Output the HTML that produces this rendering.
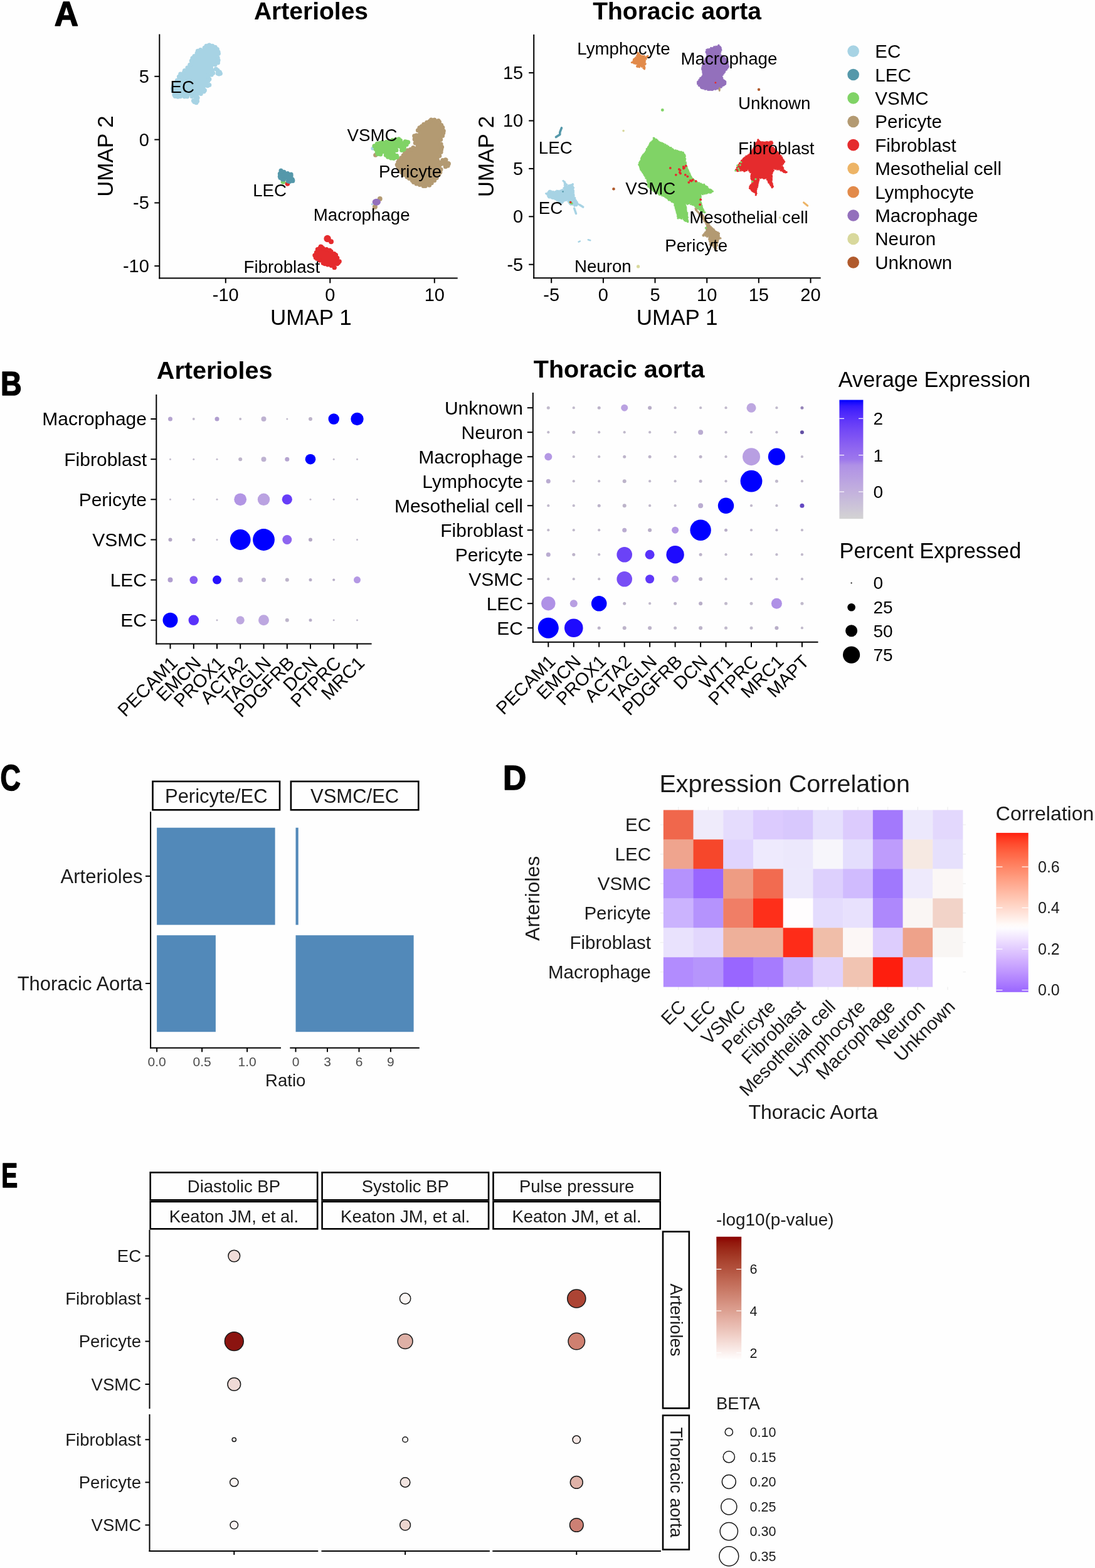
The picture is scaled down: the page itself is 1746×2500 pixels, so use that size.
<!DOCTYPE html>
<html><head><meta charset="utf-8"><title>Figure</title>
<style>html,body{margin:0;padding:0;background:#fefefe;}svg{display:block;}</style>
</head><body>
<svg width="1746" height="2500" viewBox="0 0 1746 2500" font-family='"Liberation Sans", Arial, Helvetica, sans-serif'>
<rect x="0" y="0" width="1746" height="2500" fill="#fefefe"/>
<text transform="translate(86.80,41.40) scale(0.955,1)" font-size="55.4" font-weight="bold" stroke="#000" stroke-width="1.6" stroke-linejoin="round">A</text>
<text x="496.0" y="30.8" font-size="39" text-anchor="middle" font-weight="bold">Arterioles</text>
<text x="1079.6" y="30.7" font-size="39" text-anchor="middle" font-weight="bold">Thoracic aorta</text>
<line x1="254.3" y1="54.6" x2="254.3" y2="444.4" stroke="#000" stroke-width="2" stroke-linecap="butt"/>
<line x1="253.3" y1="443.4" x2="729.7" y2="443.4" stroke="#000" stroke-width="2" stroke-linecap="butt"/>
<line x1="246.3" y1="121.8" x2="254.3" y2="121.8" stroke="#000" stroke-width="2" stroke-linecap="butt"/>
<text x="237.8" y="131.8" font-size="29" text-anchor="end">5</text>
<line x1="246.3" y1="222.6" x2="254.3" y2="222.6" stroke="#000" stroke-width="2" stroke-linecap="butt"/>
<text x="237.8" y="232.5" font-size="29" text-anchor="end">0</text>
<line x1="246.3" y1="323.4" x2="254.3" y2="323.4" stroke="#000" stroke-width="2" stroke-linecap="butt"/>
<text x="237.8" y="333.2" font-size="29" text-anchor="end">-5</text>
<line x1="246.3" y1="424.1" x2="254.3" y2="424.1" stroke="#000" stroke-width="2" stroke-linecap="butt"/>
<text x="237.8" y="434.0" font-size="29" text-anchor="end">-10</text>
<line x1="359.8" y1="443.4" x2="359.8" y2="451.4" stroke="#000" stroke-width="2" stroke-linecap="butt"/>
<text x="359.8" y="479.8" font-size="29" text-anchor="middle">-10</text>
<line x1="526.3" y1="443.4" x2="526.3" y2="451.4" stroke="#000" stroke-width="2" stroke-linecap="butt"/>
<text x="526.3" y="479.8" font-size="29" text-anchor="middle">0</text>
<line x1="692.8" y1="443.4" x2="692.8" y2="451.4" stroke="#000" stroke-width="2" stroke-linecap="butt"/>
<text x="692.8" y="479.8" font-size="29" text-anchor="middle">10</text>
<text x="495.8" y="518.2" font-size="35" text-anchor="middle">UMAP 1</text>
<text transform="translate(180.4,249.0) rotate(-90)" font-size="35" text-anchor="middle">UMAP 2</text>
<line x1="851.2" y1="55.0" x2="851.2" y2="444.3" stroke="#000" stroke-width="2" stroke-linecap="butt"/>
<line x1="850.2" y1="443.3" x2="1308.7" y2="443.3" stroke="#000" stroke-width="2" stroke-linecap="butt"/>
<line x1="843.2" y1="116.1" x2="851.2" y2="116.1" stroke="#000" stroke-width="2" stroke-linecap="butt"/>
<text x="834.2" y="126.0" font-size="29" text-anchor="end">15</text>
<line x1="843.2" y1="192.5" x2="851.2" y2="192.5" stroke="#000" stroke-width="2" stroke-linecap="butt"/>
<text x="834.2" y="202.4" font-size="29" text-anchor="end">10</text>
<line x1="843.2" y1="268.9" x2="851.2" y2="268.9" stroke="#000" stroke-width="2" stroke-linecap="butt"/>
<text x="834.2" y="278.8" font-size="29" text-anchor="end">5</text>
<line x1="843.2" y1="345.3" x2="851.2" y2="345.3" stroke="#000" stroke-width="2" stroke-linecap="butt"/>
<text x="834.2" y="355.2" font-size="29" text-anchor="end">0</text>
<line x1="843.2" y1="421.7" x2="851.2" y2="421.7" stroke="#000" stroke-width="2" stroke-linecap="butt"/>
<text x="834.2" y="431.6" font-size="29" text-anchor="end">-5</text>
<line x1="879.2" y1="443.3" x2="879.2" y2="451.3" stroke="#000" stroke-width="2" stroke-linecap="butt"/>
<text x="879.2" y="479.8" font-size="29" text-anchor="middle">-5</text>
<line x1="961.9" y1="443.3" x2="961.9" y2="451.3" stroke="#000" stroke-width="2" stroke-linecap="butt"/>
<text x="961.9" y="479.8" font-size="29" text-anchor="middle">0</text>
<line x1="1044.5" y1="443.3" x2="1044.5" y2="451.3" stroke="#000" stroke-width="2" stroke-linecap="butt"/>
<text x="1044.5" y="479.8" font-size="29" text-anchor="middle">5</text>
<line x1="1127.2" y1="443.3" x2="1127.2" y2="451.3" stroke="#000" stroke-width="2" stroke-linecap="butt"/>
<text x="1127.2" y="479.8" font-size="29" text-anchor="middle">10</text>
<line x1="1209.8" y1="443.3" x2="1209.8" y2="451.3" stroke="#000" stroke-width="2" stroke-linecap="butt"/>
<text x="1209.8" y="479.8" font-size="29" text-anchor="middle">15</text>
<line x1="1292.5" y1="443.3" x2="1292.5" y2="451.3" stroke="#000" stroke-width="2" stroke-linecap="butt"/>
<text x="1292.5" y="479.8" font-size="29" text-anchor="middle">20</text>
<text x="1079.6" y="517.9" font-size="35" text-anchor="middle">UMAP 1</text>
<text transform="translate(786.5,249.5) rotate(-90)" font-size="35" text-anchor="middle">UMAP 2</text>
<mask id="msk1" maskUnits="userSpaceOnUse" x="0" y="0" width="1746" height="2500"><polygon points="334.2,69.4 339.8,70.0 345.4,73.1 349.8,77.5 350.4,81.8 351.7,86.2 350.4,91.2 351.0,94.9 351.3,98.7 349.2,102.4 345.4,105.5 342.9,107.4 347.9,108.0 351.0,111.1 352.9,114.2 354.2,117.4 352.3,120.5 349.2,121.1 345.4,119.2 342.9,116.1 341.1,119.9 338.6,121.7 336.1,120.5 335.4,122.3 337.3,125.5 336.7,128.6 334.8,131.1 336.7,135.4 334.8,138.6 330.5,140.4 329.8,144.8 327.3,148.5 321.1,152.3 318.6,155.4 318.0,161.0 316.1,165.4 312.4,166.6 308.0,165.4 306.1,161.6 306.1,157.3 302.4,156.0 297.4,157.3 289.9,156.6 283.1,157.3 277.5,155.4 274.4,152.3 273.7,147.3 272.5,142.9 271.9,138.6 274.4,134.2 278.7,128.6 281.2,124.2 283.1,119.9 285.6,116.1 289.9,114.9 291.2,111.1 294.9,107.4 298.0,103.6 301.2,99.9 302.4,95.5 304.9,91.2 306.1,88.1 309.9,86.2 312.4,81.8 313.0,79.3 318.0,76.8 323.0,75.0 326.1,71.8 330.5,70.0" fill="white" stroke="black" stroke-width="6.0" stroke-linejoin="round"/></mask>
<polygon points="334.2,69.4 339.8,70.0 345.4,73.1 349.8,77.5 350.4,81.8 351.7,86.2 350.4,91.2 351.0,94.9 351.3,98.7 349.2,102.4 345.4,105.5 342.9,107.4 347.9,108.0 351.0,111.1 352.9,114.2 354.2,117.4 352.3,120.5 349.2,121.1 345.4,119.2 342.9,116.1 341.1,119.9 338.6,121.7 336.1,120.5 335.4,122.3 337.3,125.5 336.7,128.6 334.8,131.1 336.7,135.4 334.8,138.6 330.5,140.4 329.8,144.8 327.3,148.5 321.1,152.3 318.6,155.4 318.0,161.0 316.1,165.4 312.4,166.6 308.0,165.4 306.1,161.6 306.1,157.3 302.4,156.0 297.4,157.3 289.9,156.6 283.1,157.3 277.5,155.4 274.4,152.3 273.7,147.3 272.5,142.9 271.9,138.6 274.4,134.2 278.7,128.6 281.2,124.2 283.1,119.9 285.6,116.1 289.9,114.9 291.2,111.1 294.9,107.4 298.0,103.6 301.2,99.9 302.4,95.5 304.9,91.2 306.1,88.1 309.9,86.2 312.4,81.8 313.0,79.3 318.0,76.8 323.0,75.0 326.1,71.8 330.5,70.0" fill="#a7d3e4" mask="url(#msk1)"/>
<g fill="#a7d3e4"><circle cx="333.9" cy="71.9" r="3.5"/><circle cx="338.7" cy="73.2" r="3.5"/><circle cx="343.2" cy="75.3" r="3.5"/><circle cx="346.4" cy="78.6" r="3.5"/><circle cx="348.0" cy="82.7" r="3.5"/><circle cx="348.4" cy="85.4" r="3.5"/><circle cx="347.2" cy="91.9" r="3.5"/><circle cx="348.1" cy="96.0" r="3.5"/><circle cx="347.5" cy="100.0" r="3.5"/><circle cx="343.0" cy="102.9" r="3.5"/><circle cx="344.3" cy="110.0" r="3.5"/><circle cx="347.0" cy="112.1" r="3.5"/><circle cx="350.4" cy="115.1" r="3.5"/><circle cx="351.4" cy="117.3" r="3.5"/><circle cx="349.2" cy="118.1" r="3.5"/><circle cx="347.1" cy="117.0" r="3.5"/><circle cx="339.8" cy="116.4" r="3.5"/><circle cx="337.2" cy="119.3" r="3.5"/><circle cx="332.4" cy="120.6" r="3.5"/><circle cx="333.9" cy="126.2" r="3.5"/><circle cx="332.0" cy="128.8" r="3.5"/><circle cx="333.8" cy="135.4" r="3.5"/><circle cx="330.9" cy="136.7" r="3.5"/><circle cx="326.4" cy="144.0" r="3.5"/><circle cx="325.0" cy="145.9" r="3.5"/><circle cx="320.3" cy="149.5" r="3.5"/><circle cx="315.1" cy="155.9" r="3.5"/><circle cx="314.6" cy="161.2" r="3.5"/><circle cx="313.0" cy="163.8" r="3.5"/><circle cx="309.9" cy="162.4" r="3.5"/><circle cx="308.4" cy="160.4" r="3.5"/><circle cx="306.0" cy="153.8" r="3.5"/><circle cx="298.5" cy="154.1" r="3.5"/><circle cx="294.2" cy="154.0" r="3.5"/><circle cx="287.6" cy="153.8" r="3.5"/><circle cx="283.6" cy="154.3" r="3.5"/><circle cx="279.2" cy="153.4" r="3.5"/><circle cx="277.9" cy="151.2" r="3.5"/><circle cx="276.1" cy="145.3" r="3.5"/><circle cx="275.3" cy="141.0" r="3.5"/><circle cx="276.6" cy="137.0" r="3.5"/><circle cx="279.7" cy="133.0" r="3.5"/><circle cx="282.3" cy="128.3" r="3.5"/><circle cx="285.4" cy="122.3" r="3.5"/><circle cx="287.7" cy="117.9" r="3.5"/><circle cx="293.5" cy="115.3" r="3.5"/><circle cx="294.4" cy="112.6" r="3.5"/><circle cx="298.9" cy="107.9" r="3.5"/><circle cx="302.7" cy="103.3" r="3.5"/><circle cx="305.2" cy="96.9" r="3.5"/><circle cx="306.9" cy="92.7" r="3.5"/><circle cx="309.9" cy="89.6" r="3.5"/><circle cx="314.1" cy="84.8" r="3.5"/><circle cx="315.3" cy="81.3" r="3.5"/><circle cx="319.7" cy="79.4" r="3.5"/><circle cx="326.1" cy="76.3" r="3.5"/><circle cx="329.0" cy="73.2" r="3.5"/><circle cx="333.2" cy="72.2" r="3.5"/></g>
<mask id="msk2" maskUnits="userSpaceOnUse" x="0" y="0" width="1746" height="2500"><polygon points="693.9,187.9 702.6,191.3 708.7,201.8 710.5,208.8 708.7,217.5 705.2,225.4 707.0,234.1 706.1,242.8 703.5,249.8 703.5,253.3 712.2,251.6 719.2,261.2 715.7,267.3 709.6,269.0 706.1,267.3 705.2,276.0 699.1,284.7 694.7,290.0 686.0,297.8 677.3,300.5 668.6,297.8 658.1,293.5 654.6,290.0 646.7,284.7 638.9,277.8 631.9,267.3 630.2,262.0 632.8,253.3 638.9,248.1 644.1,241.1 651.1,235.9 659.8,232.4 659.0,225.4 658.1,216.7 663.3,213.2 664.2,206.2 668.6,200.1 677.3,194.0 686.0,188.7" fill="white" stroke="black" stroke-width="6.0" stroke-linejoin="round"/></mask>
<polygon points="693.9,187.9 702.6,191.3 708.7,201.8 710.5,208.8 708.7,217.5 705.2,225.4 707.0,234.1 706.1,242.8 703.5,249.8 703.5,253.3 712.2,251.6 719.2,261.2 715.7,267.3 709.6,269.0 706.1,267.3 705.2,276.0 699.1,284.7 694.7,290.0 686.0,297.8 677.3,300.5 668.6,297.8 658.1,293.5 654.6,290.0 646.7,284.7 638.9,277.8 631.9,267.3 630.2,262.0 632.8,253.3 638.9,248.1 644.1,241.1 651.1,235.9 659.8,232.4 659.0,225.4 658.1,216.7 663.3,213.2 664.2,206.2 668.6,200.1 677.3,194.0 686.0,188.7" fill="#b39a72" mask="url(#msk2)"/>
<g fill="#b39a72"><circle cx="692.6" cy="191.2" r="3.5"/><circle cx="699.0" cy="192.6" r="3.5"/><circle cx="700.5" cy="194.5" r="3.5"/><circle cx="703.7" cy="199.6" r="3.5"/><circle cx="705.8" cy="203.2" r="3.5"/><circle cx="707.3" cy="208.8" r="3.5"/><circle cx="706.8" cy="212.1" r="3.5"/><circle cx="705.6" cy="216.5" r="3.5"/><circle cx="702.7" cy="222.4" r="3.5"/><circle cx="703.1" cy="229.8" r="3.5"/><circle cx="704.6" cy="234.6" r="3.5"/><circle cx="703.6" cy="238.2" r="3.5"/><circle cx="703.1" cy="242.5" r="3.5"/><circle cx="700.8" cy="248.4" r="3.5"/><circle cx="705.8" cy="255.6" r="3.5"/><circle cx="710.2" cy="254.8" r="3.5"/><circle cx="711.0" cy="255.1" r="3.5"/><circle cx="714.7" cy="260.5" r="3.5"/><circle cx="715.4" cy="260.9" r="3.5"/><circle cx="714.1" cy="264.3" r="3.5"/><circle cx="710.3" cy="265.7" r="3.5"/><circle cx="703.0" cy="270.0" r="3.5"/><circle cx="701.8" cy="274.7" r="3.5"/><circle cx="699.3" cy="278.7" r="3.5"/><circle cx="696.2" cy="283.6" r="3.5"/><circle cx="692.6" cy="287.8" r="3.5"/><circle cx="688.2" cy="291.8" r="3.5"/><circle cx="684.6" cy="295.3" r="3.5"/><circle cx="678.3" cy="296.5" r="3.5"/><circle cx="675.1" cy="296.6" r="3.5"/><circle cx="669.3" cy="294.6" r="3.5"/><circle cx="664.0" cy="293.0" r="3.5"/><circle cx="659.5" cy="290.6" r="3.5"/><circle cx="657.3" cy="287.8" r="3.5"/><circle cx="652.7" cy="284.5" r="3.5"/><circle cx="648.9" cy="281.9" r="3.5"/><circle cx="644.1" cy="278.4" r="3.5"/><circle cx="640.8" cy="275.0" r="3.5"/><circle cx="637.3" cy="270.5" r="3.5"/><circle cx="634.8" cy="266.3" r="3.5"/><circle cx="633.2" cy="262.8" r="3.5"/><circle cx="634.8" cy="258.5" r="3.5"/><circle cx="636.3" cy="254.9" r="3.5"/><circle cx="639.8" cy="251.7" r="3.5"/><circle cx="643.2" cy="247.7" r="3.5"/><circle cx="645.8" cy="243.3" r="3.5"/><circle cx="650.0" cy="239.8" r="3.5"/><circle cx="654.6" cy="238.2" r="3.5"/><circle cx="658.8" cy="235.6" r="3.5"/><circle cx="662.2" cy="227.9" r="3.5"/><circle cx="661.1" cy="222.0" r="3.5"/><circle cx="660.7" cy="216.8" r="3.5"/><circle cx="664.1" cy="215.7" r="3.5"/><circle cx="666.4" cy="207.8" r="3.5"/><circle cx="668.9" cy="203.8" r="3.5"/><circle cx="672.3" cy="201.6" r="3.5"/><circle cx="675.7" cy="198.3" r="3.5"/><circle cx="680.6" cy="195.3" r="3.5"/><circle cx="684.9" cy="193.6" r="3.5"/><circle cx="687.5" cy="191.0" r="3.5"/><circle cx="692.7" cy="191.2" r="3.5"/></g>
<circle cx="594.4" cy="236.7" r="3.00" fill="#a7d3e4"/>
<circle cx="598.7" cy="247.2" r="3.50" fill="#b39a72"/>
<mask id="msk3" maskUnits="userSpaceOnUse" x="0" y="0" width="1746" height="2500"><polygon points="595.2,230.6 600.5,226.3 607.5,224.5 616.2,223.6 624.9,220.2 636.3,218.4 640.6,221.9 649.4,222.8 653.7,227.1 651.1,232.4 647.6,235.9 645.9,241.1 640.6,242.8 635.4,239.4 633.6,242.8 636.3,248.1 635.4,252.4 629.3,255.9 623.2,255.1 616.2,252.4 611.8,248.1 604.8,249.8 599.6,248.1 597.9,242.8 595.2,237.6" fill="white" stroke="black" stroke-width="6.0" stroke-linejoin="round"/></mask>
<polygon points="595.2,230.6 600.5,226.3 607.5,224.5 616.2,223.6 624.9,220.2 636.3,218.4 640.6,221.9 649.4,222.8 653.7,227.1 651.1,232.4 647.6,235.9 645.9,241.1 640.6,242.8 635.4,239.4 633.6,242.8 636.3,248.1 635.4,252.4 629.3,255.9 623.2,255.1 616.2,252.4 611.8,248.1 604.8,249.8 599.6,248.1 597.9,242.8 595.2,237.6" fill="#80d366" mask="url(#msk3)"/>
<g fill="#80d366"><circle cx="596.9" cy="232.7" r="3.5"/><circle cx="601.3" cy="229.3" r="3.5"/><circle cx="605.6" cy="228.2" r="3.5"/><circle cx="609.6" cy="226.7" r="3.5"/><circle cx="615.8" cy="226.4" r="3.5"/><circle cx="621.4" cy="225.4" r="3.5"/><circle cx="625.7" cy="223.5" r="3.5"/><circle cx="631.1" cy="222.4" r="3.5"/><circle cx="635.8" cy="221.7" r="3.5"/><circle cx="638.5" cy="224.1" r="3.5"/><circle cx="646.0" cy="225.7" r="3.5"/><circle cx="648.1" cy="226.2" r="3.5"/><circle cx="650.7" cy="226.8" r="3.5"/><circle cx="648.2" cy="230.6" r="3.5"/><circle cx="644.5" cy="235.0" r="3.5"/><circle cx="644.0" cy="238.3" r="3.5"/><circle cx="640.6" cy="239.4" r="3.5"/><circle cx="632.0" cy="239.6" r="3.5"/><circle cx="632.5" cy="248.3" r="3.5"/><circle cx="633.2" cy="250.6" r="3.5"/><circle cx="630.5" cy="251.1" r="3.5"/><circle cx="627.8" cy="252.5" r="3.5"/><circle cx="623.5" cy="252.0" r="3.5"/><circle cx="618.6" cy="250.3" r="3.5"/><circle cx="615.3" cy="247.2" r="3.5"/><circle cx="606.7" cy="246.0" r="3.5"/><circle cx="602.3" cy="245.4" r="3.5"/><circle cx="601.2" cy="242.5" r="3.5"/><circle cx="599.1" cy="237.7" r="3.5"/><circle cx="598.7" cy="232.9" r="3.5"/></g>
<circle cx="458.4" cy="293.0" r="3.80" fill="#e52b2d"/>
<circle cx="451.5" cy="289.9" r="3.80" fill="#80d366"/>
<mask id="msk4" maskUnits="userSpaceOnUse" x="0" y="0" width="1746" height="2500"><polygon points="449.3,269.0 455.6,271.8 461.2,274.0 466.8,276.5 468.0,281.2 470.2,286.5 468.7,291.2 464.3,291.8 459.6,292.1 455.6,289.6 449.3,289.3 445.0,285.9 443.1,278.7 445.0,271.8" fill="white" stroke="black" stroke-width="6.0" stroke-linejoin="round"/></mask>
<polygon points="449.3,269.0 455.6,271.8 461.2,274.0 466.8,276.5 468.0,281.2 470.2,286.5 468.7,291.2 464.3,291.8 459.6,292.1 455.6,289.6 449.3,289.3 445.0,285.9 443.1,278.7 445.0,271.8" fill="#5598aa" mask="url(#msk4)"/>
<g fill="#5598aa"><circle cx="448.0" cy="271.9" r="3.5"/><circle cx="452.9" cy="274.3" r="3.5"/><circle cx="458.6" cy="276.5" r="3.5"/><circle cx="464.1" cy="278.0" r="3.5"/><circle cx="464.1" cy="280.4" r="3.5"/><circle cx="466.1" cy="285.8" r="3.5"/><circle cx="466.8" cy="287.5" r="3.5"/><circle cx="466.7" cy="288.4" r="3.5"/><circle cx="461.8" cy="289.5" r="3.5"/><circle cx="459.3" cy="288.7" r="3.5"/><circle cx="452.6" cy="286.1" r="3.5"/><circle cx="450.5" cy="286.0" r="3.5"/><circle cx="447.0" cy="283.5" r="3.5"/><circle cx="446.3" cy="281.2" r="3.5"/><circle cx="446.3" cy="277.0" r="3.5"/><circle cx="448.4" cy="273.0" r="3.5"/></g>
<circle cx="605.8" cy="317.0" r="3.90" fill="#b39a72"/>
<circle cx="597.9" cy="329.7" r="4.00" fill="#b39a72"/>
<circle cx="593.4" cy="325.6" r="1.60" fill="#a7d3e4"/>
<ellipse cx="600.3" cy="322.2" rx="6.6" ry="5.5" fill="#9370bc"/>
<circle cx="522.1" cy="380.5" r="5.70" fill="#e52b2d"/>
<circle cx="528.0" cy="385.3" r="4.00" fill="#e52b2d"/>
<mask id="msk5" maskUnits="userSpaceOnUse" x="0" y="0" width="1746" height="2500"><polygon points="512.7,390.9 518.8,394.9 528.0,395.7 531.9,400.5 537.1,403.6 539.8,409.3 544.6,415.4 542.4,421.1 538.0,423.7 535.8,428.9 531.5,429.8 528.0,426.7 520.5,424.6 513.1,422.4 508.3,418.0 500.5,413.6 498.5,407.1 501.3,401.4 504.0,396.2 508.3,392.3" fill="white" stroke="black" stroke-width="6.0" stroke-linejoin="round"/></mask>
<polygon points="512.7,390.9 518.8,394.9 528.0,395.7 531.9,400.5 537.1,403.6 539.8,409.3 544.6,415.4 542.4,421.1 538.0,423.7 535.8,428.9 531.5,429.8 528.0,426.7 520.5,424.6 513.1,422.4 508.3,418.0 500.5,413.6 498.5,407.1 501.3,401.4 504.0,396.2 508.3,392.3" fill="#e52b2d" mask="url(#msk5)"/>
<g fill="#e52b2d"><circle cx="511.2" cy="393.1" r="3.5"/><circle cx="515.0" cy="395.8" r="3.5"/><circle cx="520.7" cy="397.6" r="3.5"/><circle cx="525.8" cy="399.0" r="3.5"/><circle cx="528.1" cy="401.1" r="3.5"/><circle cx="532.9" cy="404.6" r="3.5"/><circle cx="535.6" cy="406.5" r="3.5"/><circle cx="537.9" cy="411.2" r="3.5"/><circle cx="541.3" cy="416.7" r="3.5"/><circle cx="539.6" cy="419.0" r="3.5"/><circle cx="537.7" cy="420.7" r="3.5"/><circle cx="533.2" cy="426.6" r="3.5"/><circle cx="533.2" cy="426.7" r="3.5"/><circle cx="528.2" cy="423.5" r="3.5"/><circle cx="522.5" cy="422.0" r="3.5"/><circle cx="518.0" cy="420.7" r="3.5"/><circle cx="515.2" cy="419.5" r="3.5"/><circle cx="509.6" cy="415.2" r="3.5"/><circle cx="505.4" cy="412.4" r="3.5"/><circle cx="503.2" cy="410.7" r="3.5"/><circle cx="501.8" cy="407.1" r="3.5"/><circle cx="504.3" cy="402.5" r="3.5"/><circle cx="506.3" cy="397.5" r="3.5"/><circle cx="509.9" cy="395.4" r="3.5"/><circle cx="512.5" cy="393.5" r="3.5"/></g>
<mask id="msk6" maskUnits="userSpaceOnUse" x="0" y="0" width="1746" height="2500"><polygon points="1110.0,332.0 1115.0,339.0 1120.9,342.0 1123.4,345.0 1127.9,352.9 1132.4,358.9 1137.9,363.9 1142.9,367.9 1147.4,371.4 1148.4,377.4 1149.9,379.9 1147.4,382.4 1144.9,386.9 1143.9,393.8 1142.4,398.8 1139.4,397.8 1135.9,392.3 1131.4,390.8 1130.4,384.9 1128.9,378.9 1123.9,376.4 1120.9,377.4 1120.0,374.9 1122.9,370.9 1124.9,367.4 1125.9,361.9 1124.9,356.9 1120.9,351.4 1115.0,343.0 1109.0,335.0" fill="white" stroke="black" stroke-width="2.6" stroke-linejoin="round"/></mask>
<polygon points="1110.0,332.0 1115.0,339.0 1120.9,342.0 1123.4,345.0 1127.9,352.9 1132.4,358.9 1137.9,363.9 1142.9,367.9 1147.4,371.4 1148.4,377.4 1149.9,379.9 1147.4,382.4 1144.9,386.9 1143.9,393.8 1142.4,398.8 1139.4,397.8 1135.9,392.3 1131.4,390.8 1130.4,384.9 1128.9,378.9 1123.9,376.4 1120.9,377.4 1120.0,374.9 1122.9,370.9 1124.9,367.4 1125.9,361.9 1124.9,356.9 1120.9,351.4 1115.0,343.0 1109.0,335.0" fill="#b39a72" mask="url(#msk6)"/>
<g fill="#b39a72"><circle cx="1109.0" cy="332.7" r="1.6"/><circle cx="1110.1" cy="335.2" r="1.6"/><circle cx="1112.0" cy="337.0" r="1.6"/><circle cx="1113.9" cy="339.0" r="1.6"/><circle cx="1116.1" cy="341.2" r="1.6"/><circle cx="1118.9" cy="341.9" r="1.6"/><circle cx="1120.7" cy="343.0" r="1.6"/><circle cx="1122.0" cy="345.7" r="1.6"/><circle cx="1122.6" cy="347.4" r="1.6"/><circle cx="1124.5" cy="349.9" r="1.6"/><circle cx="1126.4" cy="352.0" r="1.6"/><circle cx="1127.2" cy="354.1" r="1.6"/><circle cx="1128.8" cy="355.6" r="1.6"/><circle cx="1130.3" cy="357.4" r="1.6"/><circle cx="1131.6" cy="359.9" r="1.6"/><circle cx="1133.8" cy="361.9" r="1.6"/><circle cx="1135.8" cy="363.8" r="1.6"/><circle cx="1138.0" cy="365.6" r="1.6"/><circle cx="1139.4" cy="367.6" r="1.6"/><circle cx="1142.0" cy="369.4" r="1.6"/><circle cx="1144.6" cy="370.6" r="1.6"/><circle cx="1146.5" cy="372.0" r="1.6"/><circle cx="1146.1" cy="373.4" r="1.6"/><circle cx="1146.4" cy="375.9" r="1.6"/><circle cx="1147.2" cy="378.9" r="1.6"/><circle cx="1148.9" cy="379.9" r="1.6"/><circle cx="1146.5" cy="380.8" r="1.6"/><circle cx="1144.8" cy="383.3" r="1.6"/><circle cx="1144.5" cy="386.0" r="1.6"/><circle cx="1143.0" cy="388.8" r="1.6"/><circle cx="1143.5" cy="391.3" r="1.6"/><circle cx="1142.1" cy="393.5" r="1.6"/><circle cx="1142.3" cy="396.3" r="1.6"/><circle cx="1141.6" cy="398.5" r="1.6"/><circle cx="1140.9" cy="396.6" r="1.6"/><circle cx="1139.9" cy="396.1" r="1.6"/><circle cx="1138.2" cy="394.1" r="1.6"/><circle cx="1136.1" cy="391.5" r="1.6"/><circle cx="1133.5" cy="390.6" r="1.6"/><circle cx="1132.2" cy="390.1" r="1.6"/><circle cx="1132.7" cy="387.6" r="1.6"/><circle cx="1131.5" cy="384.8" r="1.6"/><circle cx="1130.6" cy="381.9" r="1.6"/><circle cx="1130.8" cy="379.3" r="1.6"/><circle cx="1127.5" cy="377.3" r="1.6"/><circle cx="1124.8" cy="375.8" r="1.6"/><circle cx="1121.7" cy="375.4" r="1.6"/><circle cx="1121.5" cy="376.0" r="1.6"/><circle cx="1121.0" cy="374.9" r="1.6"/><circle cx="1122.7" cy="372.9" r="1.6"/><circle cx="1124.4" cy="370.6" r="1.6"/><circle cx="1126.3" cy="368.7" r="1.6"/><circle cx="1126.6" cy="365.6" r="1.6"/><circle cx="1126.7" cy="362.6" r="1.6"/><circle cx="1127.3" cy="359.8" r="1.6"/><circle cx="1126.0" cy="357.1" r="1.6"/><circle cx="1125.1" cy="354.5" r="1.6"/><circle cx="1122.8" cy="352.4" r="1.6"/><circle cx="1121.7" cy="349.4" r="1.6"/><circle cx="1119.7" cy="347.5" r="1.6"/><circle cx="1118.0" cy="346.0" r="1.6"/><circle cx="1116.4" cy="343.3" r="1.6"/><circle cx="1114.8" cy="341.0" r="1.6"/><circle cx="1113.3" cy="338.4" r="1.6"/><circle cx="1111.5" cy="336.8" r="1.6"/><circle cx="1109.7" cy="334.6" r="1.6"/><circle cx="1111.0" cy="333.4" r="1.6"/></g>
<mask id="msk7" maskUnits="userSpaceOnUse" x="0" y="0" width="1746" height="2500"><polygon points="1042.9,219.0 1051.9,225.0 1064.8,231.9 1077.8,238.9 1089.8,241.9 1093.8,247.9 1093.8,256.9 1095.8,265.9 1099.8,274.8 1102.7,281.8 1107.7,286.8 1114.7,290.8 1123.7,293.8 1129.7,298.8 1137.7,303.8 1134.7,307.8 1124.7,309.8 1118.7,311.7 1117.7,319.7 1119.7,325.7 1122.7,333.7 1124.7,339.7 1117.7,338.7 1107.7,329.7 1099.8,325.7 1093.8,326.7 1095.8,334.7 1097.3,344.7 1097.8,354.6 1092.8,353.6 1087.8,349.6 1079.8,348.7 1077.8,339.7 1075.8,329.7 1073.8,324.7 1065.8,319.7 1057.9,313.7 1051.9,311.7 1041.9,305.8 1032.9,297.8 1031.9,289.8 1028.9,283.8 1024.9,277.8 1020.0,269.9 1017.0,261.9 1022.9,249.9 1029.9,237.9 1036.9,226.0" fill="white" stroke="black" stroke-width="2.6" stroke-linejoin="round"/></mask>
<polygon points="1042.9,219.0 1051.9,225.0 1064.8,231.9 1077.8,238.9 1089.8,241.9 1093.8,247.9 1093.8,256.9 1095.8,265.9 1099.8,274.8 1102.7,281.8 1107.7,286.8 1114.7,290.8 1123.7,293.8 1129.7,298.8 1137.7,303.8 1134.7,307.8 1124.7,309.8 1118.7,311.7 1117.7,319.7 1119.7,325.7 1122.7,333.7 1124.7,339.7 1117.7,338.7 1107.7,329.7 1099.8,325.7 1093.8,326.7 1095.8,334.7 1097.3,344.7 1097.8,354.6 1092.8,353.6 1087.8,349.6 1079.8,348.7 1077.8,339.7 1075.8,329.7 1073.8,324.7 1065.8,319.7 1057.9,313.7 1051.9,311.7 1041.9,305.8 1032.9,297.8 1031.9,289.8 1028.9,283.8 1024.9,277.8 1020.0,269.9 1017.0,261.9 1022.9,249.9 1029.9,237.9 1036.9,226.0" fill="#80d366" mask="url(#msk7)"/>
<g fill="#80d366"><circle cx="1042.2" cy="220.1" r="1.6"/><circle cx="1044.4" cy="221.8" r="1.6"/><circle cx="1046.7" cy="222.4" r="1.6"/><circle cx="1048.5" cy="224.0" r="1.6"/><circle cx="1050.7" cy="226.0" r="1.6"/><circle cx="1053.3" cy="227.3" r="1.6"/><circle cx="1055.9" cy="228.1" r="1.6"/><circle cx="1058.2" cy="229.4" r="1.6"/><circle cx="1060.9" cy="230.7" r="1.6"/><circle cx="1063.5" cy="232.1" r="1.6"/><circle cx="1065.8" cy="233.7" r="1.6"/><circle cx="1067.7" cy="235.4" r="1.6"/><circle cx="1070.0" cy="235.6" r="1.6"/><circle cx="1072.4" cy="237.5" r="1.6"/><circle cx="1074.0" cy="239.0" r="1.6"/><circle cx="1077.2" cy="239.5" r="1.6"/><circle cx="1079.8" cy="240.3" r="1.6"/><circle cx="1082.0" cy="241.4" r="1.6"/><circle cx="1084.2" cy="242.1" r="1.6"/><circle cx="1086.4" cy="242.0" r="1.6"/><circle cx="1089.2" cy="243.0" r="1.6"/><circle cx="1089.8" cy="244.5" r="1.6"/><circle cx="1091.5" cy="246.5" r="1.6"/><circle cx="1092.3" cy="248.5" r="1.6"/><circle cx="1091.9" cy="250.6" r="1.6"/><circle cx="1092.7" cy="253.4" r="1.6"/><circle cx="1092.3" cy="255.9" r="1.6"/><circle cx="1093.4" cy="258.8" r="1.6"/><circle cx="1093.6" cy="261.1" r="1.6"/><circle cx="1093.6" cy="263.8" r="1.6"/><circle cx="1095.2" cy="266.3" r="1.6"/><circle cx="1095.9" cy="269.1" r="1.6"/><circle cx="1097.2" cy="271.4" r="1.6"/><circle cx="1098.1" cy="273.8" r="1.6"/><circle cx="1099.5" cy="276.3" r="1.6"/><circle cx="1100.5" cy="278.8" r="1.6"/><circle cx="1101.7" cy="281.3" r="1.6"/><circle cx="1103.0" cy="283.7" r="1.6"/><circle cx="1105.2" cy="285.4" r="1.6"/><circle cx="1106.9" cy="287.3" r="1.6"/><circle cx="1108.9" cy="289.0" r="1.6"/><circle cx="1111.6" cy="290.5" r="1.6"/><circle cx="1114.6" cy="291.7" r="1.6"/><circle cx="1117.4" cy="292.9" r="1.6"/><circle cx="1119.4" cy="294.1" r="1.6"/><circle cx="1122.6" cy="294.2" r="1.6"/><circle cx="1123.8" cy="296.0" r="1.6"/><circle cx="1126.0" cy="297.0" r="1.6"/><circle cx="1127.8" cy="298.2" r="1.6"/><circle cx="1129.4" cy="300.9" r="1.6"/><circle cx="1132.4" cy="302.0" r="1.6"/><circle cx="1134.3" cy="303.0" r="1.6"/><circle cx="1136.4" cy="305.0" r="1.6"/><circle cx="1135.5" cy="305.1" r="1.6"/><circle cx="1133.7" cy="307.0" r="1.6"/><circle cx="1131.9" cy="307.3" r="1.6"/><circle cx="1128.7" cy="307.2" r="1.6"/><circle cx="1126.7" cy="308.3" r="1.6"/><circle cx="1123.7" cy="309.0" r="1.6"/><circle cx="1120.6" cy="309.7" r="1.6"/><circle cx="1117.1" cy="311.8" r="1.6"/><circle cx="1117.3" cy="314.2" r="1.6"/><circle cx="1116.6" cy="316.5" r="1.6"/><circle cx="1116.9" cy="319.3" r="1.6"/><circle cx="1117.4" cy="322.7" r="1.6"/><circle cx="1118.1" cy="324.9" r="1.6"/><circle cx="1119.1" cy="327.9" r="1.6"/><circle cx="1119.6" cy="330.6" r="1.6"/><circle cx="1120.9" cy="333.4" r="1.6"/><circle cx="1121.9" cy="335.7" r="1.6"/><circle cx="1122.6" cy="338.6" r="1.6"/><circle cx="1123.9" cy="338.5" r="1.6"/><circle cx="1121.5" cy="337.6" r="1.6"/><circle cx="1118.7" cy="338.1" r="1.6"/><circle cx="1117.5" cy="336.1" r="1.6"/><circle cx="1115.3" cy="334.2" r="1.6"/><circle cx="1112.8" cy="332.5" r="1.6"/><circle cx="1110.5" cy="330.7" r="1.6"/><circle cx="1108.9" cy="329.2" r="1.6"/><circle cx="1106.9" cy="327.2" r="1.6"/><circle cx="1104.2" cy="326.4" r="1.6"/><circle cx="1101.5" cy="325.6" r="1.6"/><circle cx="1098.4" cy="324.4" r="1.6"/><circle cx="1096.1" cy="325.3" r="1.6"/><circle cx="1092.8" cy="327.0" r="1.6"/><circle cx="1093.6" cy="329.7" r="1.6"/><circle cx="1094.0" cy="331.8" r="1.6"/><circle cx="1094.1" cy="334.7" r="1.6"/><circle cx="1094.3" cy="337.3" r="1.6"/><circle cx="1095.8" cy="339.6" r="1.6"/><circle cx="1095.7" cy="342.2" r="1.6"/><circle cx="1095.7" cy="344.5" r="1.6"/><circle cx="1096.4" cy="346.7" r="1.6"/><circle cx="1095.7" cy="349.2" r="1.6"/><circle cx="1096.5" cy="351.2" r="1.6"/><circle cx="1096.8" cy="353.6" r="1.6"/><circle cx="1096.5" cy="353.4" r="1.6"/><circle cx="1093.6" cy="352.4" r="1.6"/><circle cx="1091.6" cy="351.5" r="1.6"/><circle cx="1090.0" cy="349.5" r="1.6"/><circle cx="1086.6" cy="348.5" r="1.6"/><circle cx="1084.1" cy="347.4" r="1.6"/><circle cx="1081.1" cy="347.9" r="1.6"/><circle cx="1081.1" cy="347.0" r="1.6"/><circle cx="1080.4" cy="344.5" r="1.6"/><circle cx="1080.2" cy="341.8" r="1.6"/><circle cx="1079.3" cy="339.3" r="1.6"/><circle cx="1078.8" cy="336.9" r="1.6"/><circle cx="1078.1" cy="334.6" r="1.6"/><circle cx="1077.4" cy="332.2" r="1.6"/><circle cx="1076.9" cy="330.0" r="1.6"/><circle cx="1075.9" cy="327.4" r="1.6"/><circle cx="1075.8" cy="325.1" r="1.6"/><circle cx="1073.7" cy="322.5" r="1.6"/><circle cx="1071.1" cy="321.6" r="1.6"/><circle cx="1068.9" cy="319.5" r="1.6"/><circle cx="1066.3" cy="319.0" r="1.6"/><circle cx="1064.7" cy="316.7" r="1.6"/><circle cx="1062.5" cy="315.2" r="1.6"/><circle cx="1060.4" cy="313.8" r="1.6"/><circle cx="1058.0" cy="312.5" r="1.6"/><circle cx="1055.6" cy="311.7" r="1.6"/><circle cx="1053.4" cy="310.4" r="1.6"/><circle cx="1051.3" cy="310.3" r="1.6"/><circle cx="1049.8" cy="308.3" r="1.6"/><circle cx="1047.0" cy="307.9" r="1.6"/><circle cx="1044.9" cy="305.6" r="1.6"/><circle cx="1042.3" cy="304.7" r="1.6"/><circle cx="1040.1" cy="302.8" r="1.6"/><circle cx="1038.9" cy="300.8" r="1.6"/><circle cx="1036.2" cy="299.5" r="1.6"/><circle cx="1033.8" cy="297.6" r="1.6"/><circle cx="1033.4" cy="295.9" r="1.6"/><circle cx="1033.3" cy="293.6" r="1.6"/><circle cx="1033.1" cy="290.8" r="1.6"/><circle cx="1032.2" cy="288.4" r="1.6"/><circle cx="1031.9" cy="285.9" r="1.6"/><circle cx="1029.9" cy="283.9" r="1.6"/><circle cx="1028.7" cy="281.1" r="1.6"/><circle cx="1027.3" cy="279.0" r="1.6"/><circle cx="1026.1" cy="276.6" r="1.6"/><circle cx="1024.6" cy="274.5" r="1.6"/><circle cx="1023.2" cy="272.3" r="1.6"/><circle cx="1021.7" cy="270.3" r="1.6"/><circle cx="1021.0" cy="268.1" r="1.6"/><circle cx="1020.4" cy="265.8" r="1.6"/><circle cx="1019.4" cy="263.4" r="1.6"/><circle cx="1018.9" cy="262.2" r="1.6"/><circle cx="1019.6" cy="259.4" r="1.6"/><circle cx="1020.9" cy="257.2" r="1.6"/><circle cx="1022.4" cy="254.8" r="1.6"/><circle cx="1022.5" cy="252.4" r="1.6"/><circle cx="1023.5" cy="250.4" r="1.6"/><circle cx="1024.5" cy="248.6" r="1.6"/><circle cx="1025.8" cy="246.6" r="1.6"/><circle cx="1027.7" cy="244.5" r="1.6"/><circle cx="1029.6" cy="242.1" r="1.6"/><circle cx="1031.0" cy="239.6" r="1.6"/><circle cx="1031.4" cy="237.3" r="1.6"/><circle cx="1033.2" cy="234.9" r="1.6"/><circle cx="1034.6" cy="233.1" r="1.6"/><circle cx="1035.7" cy="230.8" r="1.6"/><circle cx="1036.6" cy="228.5" r="1.6"/><circle cx="1038.1" cy="226.9" r="1.6"/><circle cx="1040.2" cy="225.0" r="1.6"/><circle cx="1042.1" cy="222.8" r="1.6"/><circle cx="1043.1" cy="220.4" r="1.6"/></g>
<circle cx="1125.5" cy="363.5" r="1.80" fill="#80d366"/>
<circle cx="1068.8" cy="267.9" r="1.90" fill="#e52b2d"/>
<circle cx="1077.8" cy="278.8" r="1.90" fill="#e52b2d"/>
<circle cx="1082.8" cy="269.9" r="1.90" fill="#e52b2d"/>
<circle cx="1083.8" cy="274.8" r="1.90" fill="#e52b2d"/>
<circle cx="1084.5" cy="271.5" r="1.90" fill="#e52b2d"/>
<circle cx="1085.0" cy="276.5" r="1.90" fill="#e52b2d"/>
<circle cx="1089.8" cy="265.9" r="1.90" fill="#e52b2d"/>
<circle cx="1091.0" cy="267.5" r="1.90" fill="#e52b2d"/>
<circle cx="1093.8" cy="264.4" r="1.90" fill="#e52b2d"/>
<circle cx="1092.8" cy="278.8" r="1.90" fill="#e52b2d"/>
<circle cx="1096.3" cy="281.3" r="1.90" fill="#e52b2d"/>
<circle cx="1098.3" cy="290.8" r="1.90" fill="#e52b2d"/>
<circle cx="1100.7" cy="287.8" r="1.90" fill="#e52b2d"/>
<circle cx="1104.7" cy="286.8" r="1.90" fill="#e52b2d"/>
<circle cx="1109.7" cy="288.8" r="1.90" fill="#e52b2d"/>
<circle cx="1117.2" cy="318.2" r="1.90" fill="#e52b2d"/>
<circle cx="1116.2" cy="326.2" r="1.90" fill="#e52b2d"/>
<circle cx="1102.5" cy="288.5" r="1.90" fill="#e52b2d"/>
<circle cx="1090.0" cy="268.5" r="1.90" fill="#e52b2d"/>
<mask id="msk8" maskUnits="userSpaceOnUse" x="0" y="0" width="1746" height="2500"><polygon points="1209.4,222.0 1213.9,225.7 1231.1,225.0 1233.3,227.2 1231.8,232.4 1238.6,239.9 1246.0,247.4 1249.0,253.4 1252.0,257.9 1247.5,263.9 1249.8,268.4 1255.0,274.3 1253.5,276.6 1248.3,275.1 1242.3,271.3 1234.8,270.6 1231.8,277.3 1231.1,288.6 1233.3,298.3 1231.1,299.8 1225.8,292.3 1221.3,285.6 1212.4,284.8 1209.4,292.3 1207.1,303.5 1206.4,311.0 1201.9,307.3 1194.4,301.3 1195.2,296.0 1198.9,290.8 1196.7,284.8 1196.7,277.3 1192.9,272.1 1188.4,274.3 1182.4,272.8 1175.0,273.6 1172.0,271.3 1175.7,263.9 1181.7,255.6 1188.4,248.9 1195.2,243.7 1201.9,234.7 1204.9,226.5" fill="white" stroke="black" stroke-width="2.6" stroke-linejoin="round"/></mask>
<polygon points="1209.4,222.0 1213.9,225.7 1231.1,225.0 1233.3,227.2 1231.8,232.4 1238.6,239.9 1246.0,247.4 1249.0,253.4 1252.0,257.9 1247.5,263.9 1249.8,268.4 1255.0,274.3 1253.5,276.6 1248.3,275.1 1242.3,271.3 1234.8,270.6 1231.8,277.3 1231.1,288.6 1233.3,298.3 1231.1,299.8 1225.8,292.3 1221.3,285.6 1212.4,284.8 1209.4,292.3 1207.1,303.5 1206.4,311.0 1201.9,307.3 1194.4,301.3 1195.2,296.0 1198.9,290.8 1196.7,284.8 1196.7,277.3 1192.9,272.1 1188.4,274.3 1182.4,272.8 1175.0,273.6 1172.0,271.3 1175.7,263.9 1181.7,255.6 1188.4,248.9 1195.2,243.7 1201.9,234.7 1204.9,226.5" fill="#e52b2d" mask="url(#msk8)"/>
<g fill="#e52b2d"><circle cx="1208.8" cy="222.8" r="1.6"/><circle cx="1210.6" cy="224.9" r="1.6"/><circle cx="1213.3" cy="226.4" r="1.6"/><circle cx="1216.2" cy="226.5" r="1.6"/><circle cx="1218.5" cy="227.1" r="1.6"/><circle cx="1220.7" cy="226.8" r="1.6"/><circle cx="1223.0" cy="226.4" r="1.6"/><circle cx="1225.6" cy="226.9" r="1.6"/><circle cx="1228.2" cy="225.8" r="1.6"/><circle cx="1230.6" cy="225.9" r="1.6"/><circle cx="1231.7" cy="227.9" r="1.6"/><circle cx="1231.0" cy="228.9" r="1.6"/><circle cx="1230.1" cy="231.6" r="1.6"/><circle cx="1232.8" cy="235.0" r="1.6"/><circle cx="1234.6" cy="237.4" r="1.6"/><circle cx="1236.5" cy="239.6" r="1.6"/><circle cx="1238.4" cy="241.3" r="1.6"/><circle cx="1240.2" cy="243.1" r="1.6"/><circle cx="1241.3" cy="245.1" r="1.6"/><circle cx="1243.2" cy="247.3" r="1.6"/><circle cx="1245.1" cy="248.7" r="1.6"/><circle cx="1246.8" cy="251.0" r="1.6"/><circle cx="1247.8" cy="253.7" r="1.6"/><circle cx="1249.3" cy="255.5" r="1.6"/><circle cx="1250.7" cy="257.8" r="1.6"/><circle cx="1249.8" cy="258.4" r="1.6"/><circle cx="1248.8" cy="260.8" r="1.6"/><circle cx="1247.1" cy="262.8" r="1.6"/><circle cx="1247.4" cy="265.8" r="1.6"/><circle cx="1248.7" cy="267.9" r="1.6"/><circle cx="1249.6" cy="271.0" r="1.6"/><circle cx="1251.5" cy="272.6" r="1.6"/><circle cx="1254.1" cy="274.4" r="1.6"/><circle cx="1252.7" cy="274.8" r="1.6"/><circle cx="1252.1" cy="274.7" r="1.6"/><circle cx="1249.8" cy="274.3" r="1.6"/><circle cx="1247.8" cy="272.7" r="1.6"/><circle cx="1244.9" cy="271.8" r="1.6"/><circle cx="1241.9" cy="270.1" r="1.6"/><circle cx="1239.1" cy="270.1" r="1.6"/><circle cx="1236.0" cy="269.3" r="1.6"/><circle cx="1233.2" cy="271.8" r="1.6"/><circle cx="1231.7" cy="274.1" r="1.6"/><circle cx="1230.9" cy="276.6" r="1.6"/><circle cx="1230.5" cy="279.8" r="1.6"/><circle cx="1230.6" cy="282.2" r="1.6"/><circle cx="1230.5" cy="285.0" r="1.6"/><circle cx="1230.4" cy="287.3" r="1.6"/><circle cx="1230.1" cy="290.4" r="1.6"/><circle cx="1231.3" cy="292.9" r="1.6"/><circle cx="1231.5" cy="295.4" r="1.6"/><circle cx="1232.4" cy="297.4" r="1.6"/><circle cx="1231.1" cy="298.8" r="1.6"/><circle cx="1230.9" cy="297.7" r="1.6"/><circle cx="1229.1" cy="295.7" r="1.6"/><circle cx="1227.9" cy="293.4" r="1.6"/><circle cx="1225.9" cy="291.2" r="1.6"/><circle cx="1225.1" cy="288.9" r="1.6"/><circle cx="1223.4" cy="286.3" r="1.6"/><circle cx="1220.6" cy="284.0" r="1.6"/><circle cx="1218.1" cy="284.6" r="1.6"/><circle cx="1215.6" cy="283.3" r="1.6"/><circle cx="1212.7" cy="283.8" r="1.6"/><circle cx="1209.9" cy="286.5" r="1.6"/><circle cx="1209.3" cy="288.8" r="1.6"/><circle cx="1208.7" cy="291.3" r="1.6"/><circle cx="1208.1" cy="293.7" r="1.6"/><circle cx="1207.8" cy="296.2" r="1.6"/><circle cx="1207.3" cy="298.6" r="1.6"/><circle cx="1206.1" cy="301.3" r="1.6"/><circle cx="1205.5" cy="303.5" r="1.6"/><circle cx="1205.6" cy="305.8" r="1.6"/><circle cx="1205.5" cy="308.4" r="1.6"/><circle cx="1205.2" cy="310.8" r="1.6"/><circle cx="1205.9" cy="308.3" r="1.6"/><circle cx="1204.1" cy="307.0" r="1.6"/><circle cx="1201.9" cy="306.0" r="1.6"/><circle cx="1199.8" cy="304.7" r="1.6"/><circle cx="1198.3" cy="303.0" r="1.6"/><circle cx="1196.7" cy="300.9" r="1.6"/><circle cx="1195.4" cy="299.9" r="1.6"/><circle cx="1195.9" cy="297.3" r="1.6"/><circle cx="1197.1" cy="295.2" r="1.6"/><circle cx="1199.0" cy="292.9" r="1.6"/><circle cx="1199.4" cy="290.0" r="1.6"/><circle cx="1199.5" cy="287.5" r="1.6"/><circle cx="1198.3" cy="285.5" r="1.6"/><circle cx="1197.8" cy="283.6" r="1.6"/><circle cx="1197.7" cy="280.7" r="1.6"/><circle cx="1198.2" cy="277.8" r="1.6"/><circle cx="1196.3" cy="274.5" r="1.6"/><circle cx="1194.4" cy="272.1" r="1.6"/><circle cx="1190.7" cy="271.6" r="1.6"/><circle cx="1187.9" cy="272.6" r="1.6"/><circle cx="1186.7" cy="273.0" r="1.6"/><circle cx="1184.4" cy="271.6" r="1.6"/><circle cx="1181.3" cy="271.9" r="1.6"/><circle cx="1178.2" cy="272.2" r="1.6"/><circle cx="1176.1" cy="272.7" r="1.6"/><circle cx="1175.2" cy="271.8" r="1.6"/><circle cx="1173.5" cy="270.5" r="1.6"/><circle cx="1174.7" cy="270.1" r="1.6"/><circle cx="1175.4" cy="267.2" r="1.6"/><circle cx="1177.1" cy="264.9" r="1.6"/><circle cx="1178.0" cy="262.5" r="1.6"/><circle cx="1179.5" cy="260.0" r="1.6"/><circle cx="1181.8" cy="258.7" r="1.6"/><circle cx="1182.5" cy="256.2" r="1.6"/><circle cx="1184.7" cy="254.3" r="1.6"/><circle cx="1185.8" cy="252.5" r="1.6"/><circle cx="1187.7" cy="251.1" r="1.6"/><circle cx="1189.8" cy="249.1" r="1.6"/><circle cx="1192.6" cy="247.8" r="1.6"/><circle cx="1194.7" cy="246.4" r="1.6"/><circle cx="1196.7" cy="243.8" r="1.6"/><circle cx="1198.1" cy="241.9" r="1.6"/><circle cx="1200.0" cy="239.5" r="1.6"/><circle cx="1201.2" cy="237.6" r="1.6"/><circle cx="1202.5" cy="235.4" r="1.6"/><circle cx="1203.5" cy="232.6" r="1.6"/><circle cx="1204.6" cy="229.9" r="1.6"/><circle cx="1205.8" cy="228.0" r="1.6"/><circle cx="1207.1" cy="226.8" r="1.6"/><circle cx="1208.6" cy="224.7" r="1.6"/></g>
<circle cx="1172.7" cy="272.1" r="1.60" fill="#80d366"/>
<circle cx="1175.7" cy="263.9" r="1.60" fill="#80d366"/>
<circle cx="1180.2" cy="263.1" r="1.60" fill="#80d366"/>
<circle cx="1177.2" cy="268.4" r="1.60" fill="#80d366"/>
<circle cx="1178.7" cy="271.3" r="1.60" fill="#80d366"/>
<circle cx="1181.7" cy="258.6" r="1.60" fill="#80d366"/>
<circle cx="1204.9" cy="285.6" r="1.60" fill="#80d366"/>
<circle cx="1199.7" cy="289.3" r="1.60" fill="#80d366"/>
<mask id="msk9" maskUnits="userSpaceOnUse" x="0" y="0" width="1746" height="2500"><polygon points="1146.4,71.5 1149.4,73.5 1151.4,79.0 1148.9,85.9 1154.9,89.9 1158.9,93.9 1162.3,99.9 1162.8,107.4 1158.9,111.9 1154.9,117.4 1152.4,121.3 1152.9,124.8 1158.4,129.8 1157.9,134.8 1152.4,138.8 1144.9,142.8 1134.9,144.8 1124.9,143.8 1117.5,140.8 1111.0,134.8 1111.0,129.8 1115.0,124.8 1119.0,119.9 1119.5,114.9 1118.5,109.9 1119.5,104.9 1123.4,94.9 1126.4,87.9 1124.4,81.9 1126.4,78.5 1134.9,75.0 1142.4,72.5" fill="white" stroke="black" stroke-width="2.6" stroke-linejoin="round"/></mask>
<polygon points="1146.4,71.5 1149.4,73.5 1151.4,79.0 1148.9,85.9 1154.9,89.9 1158.9,93.9 1162.3,99.9 1162.8,107.4 1158.9,111.9 1154.9,117.4 1152.4,121.3 1152.9,124.8 1158.4,129.8 1157.9,134.8 1152.4,138.8 1144.9,142.8 1134.9,144.8 1124.9,143.8 1117.5,140.8 1111.0,134.8 1111.0,129.8 1115.0,124.8 1119.0,119.9 1119.5,114.9 1118.5,109.9 1119.5,104.9 1123.4,94.9 1126.4,87.9 1124.4,81.9 1126.4,78.5 1134.9,75.0 1142.4,72.5" fill="#9370bc" mask="url(#msk9)"/>
<g fill="#9370bc"><circle cx="1145.9" cy="72.2" r="1.6"/><circle cx="1147.9" cy="74.3" r="1.6"/><circle cx="1149.2" cy="76.0" r="1.6"/><circle cx="1149.5" cy="78.4" r="1.6"/><circle cx="1149.9" cy="80.1" r="1.6"/><circle cx="1148.8" cy="82.7" r="1.6"/><circle cx="1148.2" cy="85.5" r="1.6"/><circle cx="1149.7" cy="88.6" r="1.6"/><circle cx="1152.2" cy="89.3" r="1.6"/><circle cx="1154.1" cy="91.2" r="1.6"/><circle cx="1155.8" cy="92.7" r="1.6"/><circle cx="1158.0" cy="94.3" r="1.6"/><circle cx="1159.4" cy="96.4" r="1.6"/><circle cx="1160.6" cy="98.5" r="1.6"/><circle cx="1160.4" cy="100.3" r="1.6"/><circle cx="1160.6" cy="102.8" r="1.6"/><circle cx="1161.2" cy="105.3" r="1.6"/><circle cx="1161.1" cy="107.0" r="1.6"/><circle cx="1159.8" cy="108.7" r="1.6"/><circle cx="1158.4" cy="111.1" r="1.6"/><circle cx="1156.3" cy="112.4" r="1.6"/><circle cx="1155.5" cy="115.0" r="1.6"/><circle cx="1153.9" cy="117.1" r="1.6"/><circle cx="1152.1" cy="119.4" r="1.6"/><circle cx="1150.8" cy="122.3" r="1.6"/><circle cx="1151.8" cy="124.4" r="1.6"/><circle cx="1152.9" cy="127.0" r="1.6"/><circle cx="1154.7" cy="128.3" r="1.6"/><circle cx="1156.4" cy="129.7" r="1.6"/><circle cx="1156.9" cy="130.9" r="1.6"/><circle cx="1156.7" cy="133.4" r="1.6"/><circle cx="1156.0" cy="134.4" r="1.6"/><circle cx="1154.3" cy="135.8" r="1.6"/><circle cx="1152.2" cy="136.8" r="1.6"/><circle cx="1150.2" cy="139.1" r="1.6"/><circle cx="1147.9" cy="139.5" r="1.6"/><circle cx="1145.9" cy="141.4" r="1.6"/><circle cx="1143.3" cy="141.3" r="1.6"/><circle cx="1141.0" cy="142.5" r="1.6"/><circle cx="1138.2" cy="142.3" r="1.6"/><circle cx="1136.0" cy="143.5" r="1.6"/><circle cx="1134.1" cy="143.3" r="1.6"/><circle cx="1131.5" cy="143.5" r="1.6"/><circle cx="1129.0" cy="143.5" r="1.6"/><circle cx="1126.8" cy="142.1" r="1.6"/><circle cx="1124.4" cy="142.5" r="1.6"/><circle cx="1121.6" cy="141.2" r="1.6"/><circle cx="1119.2" cy="140.7" r="1.6"/><circle cx="1117.7" cy="139.7" r="1.6"/><circle cx="1116.5" cy="137.5" r="1.6"/><circle cx="1114.3" cy="136.5" r="1.6"/><circle cx="1112.8" cy="134.0" r="1.6"/><circle cx="1112.6" cy="133.2" r="1.6"/><circle cx="1112.4" cy="130.8" r="1.6"/><circle cx="1113.5" cy="129.6" r="1.6"/><circle cx="1114.9" cy="127.0" r="1.6"/><circle cx="1116.6" cy="124.6" r="1.6"/><circle cx="1118.7" cy="123.2" r="1.6"/><circle cx="1120.2" cy="121.0" r="1.6"/><circle cx="1121.0" cy="117.7" r="1.6"/><circle cx="1120.5" cy="114.7" r="1.6"/><circle cx="1120.1" cy="111.6" r="1.6"/><circle cx="1119.6" cy="109.7" r="1.6"/><circle cx="1119.9" cy="107.5" r="1.6"/><circle cx="1120.4" cy="104.9" r="1.6"/><circle cx="1121.6" cy="102.9" r="1.6"/><circle cx="1122.5" cy="100.4" r="1.6"/><circle cx="1123.4" cy="97.6" r="1.6"/><circle cx="1124.5" cy="95.4" r="1.6"/><circle cx="1125.1" cy="93.3" r="1.6"/><circle cx="1126.6" cy="91.5" r="1.6"/><circle cx="1127.4" cy="89.4" r="1.6"/><circle cx="1127.4" cy="86.2" r="1.6"/><circle cx="1126.2" cy="83.7" r="1.6"/><circle cx="1126.1" cy="82.0" r="1.6"/><circle cx="1126.8" cy="79.3" r="1.6"/><circle cx="1128.7" cy="78.7" r="1.6"/><circle cx="1131.3" cy="78.4" r="1.6"/><circle cx="1133.7" cy="76.3" r="1.6"/><circle cx="1136.6" cy="76.4" r="1.6"/><circle cx="1138.8" cy="74.6" r="1.6"/><circle cx="1141.7" cy="74.0" r="1.6"/><circle cx="1144.8" cy="73.7" r="1.6"/></g>
<circle cx="1140.9" cy="131.8" r="1.50" fill="#e52b2d"/>
<ellipse cx="1147.2" cy="142.5" rx="1.6" ry="3.5" fill="#b39a72"/>
<mask id="msk10" maskUnits="userSpaceOnUse" x="0" y="0" width="1746" height="2500"><polygon points="1017.4,82.6 1022.4,86.8 1026.9,87.9 1029.5,89.6 1033.7,87.9 1035.1,89.6 1032.5,92.4 1029.7,96.3 1029.5,99.7 1030.9,101.7 1029.2,104.5 1029.2,108.7 1027.5,110.9 1024.7,108.7 1021.9,107.3 1018.0,108.4 1014.6,106.4 1014.0,103.1 1009.3,101.9 1006.7,100.3 1009.0,94.6 1011.2,91.8 1014.0,89.9 1015.2,85.7" fill="white" stroke="black" stroke-width="2.6" stroke-linejoin="round"/></mask>
<polygon points="1017.4,82.6 1022.4,86.8 1026.9,87.9 1029.5,89.6 1033.7,87.9 1035.1,89.6 1032.5,92.4 1029.7,96.3 1029.5,99.7 1030.9,101.7 1029.2,104.5 1029.2,108.7 1027.5,110.9 1024.7,108.7 1021.9,107.3 1018.0,108.4 1014.6,106.4 1014.0,103.1 1009.3,101.9 1006.7,100.3 1009.0,94.6 1011.2,91.8 1014.0,89.9 1015.2,85.7" fill="#e28a4a" mask="url(#msk10)"/>
<g fill="#e28a4a"><circle cx="1016.2" cy="84.0" r="1.6"/><circle cx="1018.0" cy="85.2" r="1.6"/><circle cx="1019.5" cy="86.8" r="1.6"/><circle cx="1021.2" cy="88.1" r="1.6"/><circle cx="1024.6" cy="89.1" r="1.6"/><circle cx="1027.3" cy="89.4" r="1.6"/><circle cx="1030.5" cy="90.8" r="1.6"/><circle cx="1032.5" cy="89.5" r="1.6"/><circle cx="1032.8" cy="89.5" r="1.6"/><circle cx="1032.9" cy="89.5" r="1.6"/><circle cx="1031.2" cy="91.1" r="1.6"/><circle cx="1030.2" cy="93.9" r="1.6"/><circle cx="1028.5" cy="96.5" r="1.6"/><circle cx="1028.2" cy="98.7" r="1.6"/><circle cx="1029.2" cy="101.7" r="1.6"/><circle cx="1028.5" cy="102.7" r="1.6"/><circle cx="1027.5" cy="105.8" r="1.6"/><circle cx="1028.0" cy="108.1" r="1.6"/><circle cx="1027.5" cy="110.0" r="1.6"/><circle cx="1025.9" cy="108.5" r="1.6"/><circle cx="1023.4" cy="106.3" r="1.6"/><circle cx="1019.7" cy="106.8" r="1.6"/><circle cx="1018.5" cy="106.6" r="1.6"/><circle cx="1016.1" cy="106.3" r="1.6"/><circle cx="1015.7" cy="105.3" r="1.6"/><circle cx="1013.9" cy="101.7" r="1.6"/><circle cx="1011.4" cy="101.1" r="1.6"/><circle cx="1009.9" cy="100.1" r="1.6"/><circle cx="1007.4" cy="99.6" r="1.6"/><circle cx="1009.1" cy="98.9" r="1.6"/><circle cx="1010.1" cy="96.7" r="1.6"/><circle cx="1010.5" cy="94.7" r="1.6"/><circle cx="1012.3" cy="93.3" r="1.6"/><circle cx="1013.9" cy="91.5" r="1.6"/><circle cx="1015.6" cy="89.1" r="1.6"/><circle cx="1016.7" cy="86.8" r="1.6"/><circle cx="1017.9" cy="84.7" r="1.6"/></g>
<polyline points="895.5,203.9 892.8,210.9 892.8,214.4 886.5,218.6" fill="none" stroke="#5598aa" stroke-width="3.6" stroke-linejoin="round" stroke-linecap="round"/>
<mask id="msk11" maskUnits="userSpaceOnUse" x="0" y="0" width="1746" height="2500"><polygon points="899.0,287.6 903.2,292.4 906.0,295.2 913.7,291.7 915.1,297.3 915.7,308.5 917.1,314.0 919.9,318.9 922.7,325.9 919.9,329.4 915.7,330.1 913.7,328.0 908.8,326.6 903.2,320.3 896.2,324.5 887.9,321.0 883.0,318.2 873.9,315.4 869.8,308.5 876.0,302.9 882.3,304.3 889.3,302.9 897.6,301.5 899.0,295.9" fill="white" stroke="black" stroke-width="2.6" stroke-linejoin="round"/></mask>
<polygon points="899.0,287.6 903.2,292.4 906.0,295.2 913.7,291.7 915.1,297.3 915.7,308.5 917.1,314.0 919.9,318.9 922.7,325.9 919.9,329.4 915.7,330.1 913.7,328.0 908.8,326.6 903.2,320.3 896.2,324.5 887.9,321.0 883.0,318.2 873.9,315.4 869.8,308.5 876.0,302.9 882.3,304.3 889.3,302.9 897.6,301.5 899.0,295.9" fill="#a7d3e4" mask="url(#msk11)"/>
<g fill="#a7d3e4"><circle cx="898.1" cy="288.3" r="1.6"/><circle cx="899.8" cy="290.3" r="1.6"/><circle cx="901.5" cy="292.2" r="1.6"/><circle cx="903.6" cy="294.2" r="1.6"/><circle cx="906.6" cy="295.7" r="1.6"/><circle cx="908.9" cy="295.1" r="1.6"/><circle cx="911.1" cy="294.6" r="1.6"/><circle cx="913.3" cy="293.7" r="1.6"/><circle cx="913.2" cy="293.8" r="1.6"/><circle cx="913.3" cy="296.9" r="1.6"/><circle cx="914.5" cy="299.3" r="1.6"/><circle cx="913.9" cy="301.9" r="1.6"/><circle cx="914.5" cy="304.2" r="1.6"/><circle cx="914.6" cy="306.6" r="1.6"/><circle cx="914.9" cy="309.7" r="1.6"/><circle cx="915.1" cy="312.2" r="1.6"/><circle cx="916.6" cy="315.3" r="1.6"/><circle cx="917.0" cy="317.5" r="1.6"/><circle cx="918.5" cy="319.8" r="1.6"/><circle cx="920.1" cy="322.0" r="1.6"/><circle cx="920.8" cy="324.1" r="1.6"/><circle cx="922.0" cy="325.6" r="1.6"/><circle cx="919.6" cy="327.3" r="1.6"/><circle cx="919.0" cy="327.8" r="1.6"/><circle cx="916.4" cy="328.1" r="1.6"/><circle cx="915.8" cy="327.9" r="1.6"/><circle cx="913.0" cy="326.3" r="1.6"/><circle cx="910.3" cy="326.3" r="1.6"/><circle cx="908.9" cy="325.3" r="1.6"/><circle cx="907.4" cy="323.3" r="1.6"/><circle cx="905.9" cy="321.1" r="1.6"/><circle cx="902.5" cy="319.4" r="1.6"/><circle cx="899.9" cy="320.1" r="1.6"/><circle cx="897.6" cy="321.9" r="1.6"/><circle cx="896.2" cy="323.5" r="1.6"/><circle cx="894.1" cy="322.8" r="1.6"/><circle cx="892.1" cy="322.0" r="1.6"/><circle cx="890.0" cy="319.9" r="1.6"/><circle cx="888.0" cy="319.3" r="1.6"/><circle cx="885.4" cy="317.7" r="1.6"/><circle cx="883.1" cy="316.7" r="1.6"/><circle cx="880.7" cy="316.5" r="1.6"/><circle cx="878.8" cy="315.5" r="1.6"/><circle cx="875.8" cy="315.1" r="1.6"/><circle cx="874.6" cy="314.3" r="1.6"/><circle cx="873.6" cy="312.5" r="1.6"/><circle cx="872.2" cy="310.0" r="1.6"/><circle cx="870.6" cy="308.5" r="1.6"/><circle cx="872.2" cy="308.4" r="1.6"/><circle cx="874.3" cy="306.2" r="1.6"/><circle cx="875.7" cy="304.4" r="1.6"/><circle cx="877.1" cy="304.0" r="1.6"/><circle cx="879.1" cy="304.8" r="1.6"/><circle cx="882.1" cy="305.3" r="1.6"/><circle cx="885.6" cy="305.4" r="1.6"/><circle cx="887.9" cy="304.2" r="1.6"/><circle cx="890.2" cy="304.3" r="1.6"/><circle cx="893.1" cy="304.0" r="1.6"/><circle cx="895.3" cy="303.1" r="1.6"/><circle cx="897.3" cy="302.6" r="1.6"/><circle cx="898.9" cy="299.8" r="1.6"/><circle cx="900.4" cy="298.0" r="1.6"/><circle cx="900.3" cy="295.2" r="1.6"/><circle cx="900.3" cy="292.5" r="1.6"/><circle cx="900.3" cy="289.8" r="1.6"/></g>
<polyline points="915.7,332.2 918.5,340.5" fill="none" stroke="#a7d3e4" stroke-width="3.5" stroke-linejoin="round" stroke-linecap="round"/>
<polyline points="924.1,326.6 929.7,330.1" fill="none" stroke="#a7d3e4" stroke-width="3.5" stroke-linejoin="round" stroke-linecap="round"/>
<ellipse cx="910.5" cy="323.3" rx="3.5" ry="2" transform="rotate(35 910.5 323.3)" fill="#80d366"/>
<circle cx="909.8" cy="322.4" r="1.70" fill="#e52b2d"/>
<circle cx="897.6" cy="305.5" r="1.30" fill="#5598aa"/>
<polyline points="922.5,385.6 924.8,384.6" fill="none" stroke="#a7d3e4" stroke-width="2.5" stroke-linejoin="round" stroke-linecap="round"/>
<polyline points="937.8,382.2 941.2,383.3" fill="none" stroke="#a7d3e4" stroke-width="2.5" stroke-linejoin="round" stroke-linecap="round"/>
<circle cx="1056.3" cy="175.4" r="2.40" fill="#80d366"/>
<circle cx="994.1" cy="208.6" r="1.80" fill="#d8d89c"/>
<circle cx="1210.0" cy="142.8" r="2.20" fill="#b05a2c"/>
<circle cx="978.5" cy="301.2" r="2.30" fill="#b05a2c"/>
<polyline points="1281.5,322.9 1287.7,328.0" fill="none" stroke="#edb466" stroke-width="3" stroke-linejoin="round" stroke-linecap="round"/>
<circle cx="1243.6" cy="347.1" r="1.80" fill="#d8d89c"/>
<circle cx="1017.6" cy="424.9" r="2.60" fill="#d8d89c"/>
<text x="271.5" y="148.3" font-size="27.7" text-anchor="start">EC</text>
<text x="553.5" y="225.4" font-size="27.7" text-anchor="start">VSMC</text>
<text x="604.1" y="283.3" font-size="27.7" text-anchor="start">Pericyte</text>
<text x="403.2" y="312.5" font-size="27.7" text-anchor="start">LEC</text>
<text x="499.7" y="352.2" font-size="27.7" text-anchor="start">Macrophage</text>
<text x="388.6" y="434.8" font-size="27.7" text-anchor="start">Fibroblast</text>
<text x="920.3" y="86.8" font-size="27.7" text-anchor="start">Lymphocyte</text>
<text x="1085.5" y="103.1" font-size="27.7" text-anchor="start">Macrophage</text>
<text x="1177.0" y="173.6" font-size="27.7" text-anchor="start">Unknown</text>
<text x="858.8" y="244.8" font-size="27.7" text-anchor="start">LEC</text>
<text x="1177.0" y="245.9" font-size="27.7" text-anchor="start">Fibroblast</text>
<text x="997.3" y="310.3" font-size="27.7" text-anchor="start">VSMC</text>
<text x="858.8" y="341.0" font-size="27.7" text-anchor="start">EC</text>
<text x="1099.3" y="356.2" font-size="27.7" text-anchor="start">Mesothelial cell</text>
<text x="1060.2" y="401.4" font-size="27.7" text-anchor="start">Pericyte</text>
<text x="915.9" y="433.9" font-size="27.7" text-anchor="start">Neuron</text>
<circle cx="1360.6" cy="81.6" r="9.35" fill="#a7d3e4"/>
<text x="1395.3" y="92.1" font-size="29.5" text-anchor="start">EC</text>
<circle cx="1360.6" cy="119.0" r="9.35" fill="#5598aa"/>
<text x="1395.3" y="129.5" font-size="29.5" text-anchor="start">LEC</text>
<circle cx="1360.6" cy="156.4" r="9.35" fill="#80d366"/>
<text x="1395.3" y="166.9" font-size="29.5" text-anchor="start">VSMC</text>
<circle cx="1360.6" cy="193.8" r="9.35" fill="#b39a72"/>
<text x="1395.3" y="204.3" font-size="29.5" text-anchor="start">Pericyte</text>
<circle cx="1360.6" cy="231.2" r="9.35" fill="#e52b2d"/>
<text x="1395.3" y="241.7" font-size="29.5" text-anchor="start">Fibroblast</text>
<circle cx="1360.6" cy="268.6" r="9.35" fill="#edb466"/>
<text x="1395.3" y="279.1" font-size="29.5" text-anchor="start">Mesothelial cell</text>
<circle cx="1360.6" cy="306.1" r="9.35" fill="#e28a4a"/>
<text x="1395.3" y="316.6" font-size="29.5" text-anchor="start">Lymphocyte</text>
<circle cx="1360.6" cy="343.5" r="9.35" fill="#9370bc"/>
<text x="1395.3" y="354.0" font-size="29.5" text-anchor="start">Macrophage</text>
<circle cx="1360.6" cy="380.9" r="9.35" fill="#d8d89c"/>
<text x="1395.3" y="391.4" font-size="29.5" text-anchor="start">Neuron</text>
<circle cx="1360.6" cy="418.3" r="9.35" fill="#b05a2c"/>
<text x="1395.3" y="428.8" font-size="29.5" text-anchor="start">Unknown</text>
<text transform="translate(0.90,629.60) scale(0.865,1)" font-size="53.9" font-weight="bold" stroke="#000" stroke-width="1.6" stroke-linejoin="round">B</text>
<text x="342.2" y="603.8" font-size="39.6" text-anchor="middle" font-weight="bold">Arterioles</text>
<text x="987.1" y="601.5" font-size="39.6" text-anchor="middle" font-weight="bold">Thoracic aorta</text>
<line x1="249.3" y1="628.9" x2="249.3" y2="1027.5" stroke="#000" stroke-width="2" stroke-linecap="butt"/>
<line x1="248.3" y1="1026.5" x2="592.6" y2="1026.5" stroke="#000" stroke-width="2" stroke-linecap="butt"/>
<line x1="240.3" y1="668.0" x2="249.3" y2="668.0" stroke="#000" stroke-width="2" stroke-linecap="butt"/>
<text x="234.0" y="678.3" font-size="30" text-anchor="end">Macrophage</text>
<line x1="240.3" y1="732.2" x2="249.3" y2="732.2" stroke="#000" stroke-width="2" stroke-linecap="butt"/>
<text x="234.0" y="742.5" font-size="30" text-anchor="end">Fibroblast</text>
<line x1="240.3" y1="796.3" x2="249.3" y2="796.3" stroke="#000" stroke-width="2" stroke-linecap="butt"/>
<text x="234.0" y="806.6" font-size="30" text-anchor="end">Pericyte</text>
<line x1="240.3" y1="860.5" x2="249.3" y2="860.5" stroke="#000" stroke-width="2" stroke-linecap="butt"/>
<text x="234.0" y="870.8" font-size="30" text-anchor="end">VSMC</text>
<line x1="240.3" y1="924.6" x2="249.3" y2="924.6" stroke="#000" stroke-width="2" stroke-linecap="butt"/>
<text x="234.0" y="934.9" font-size="30" text-anchor="end">LEC</text>
<line x1="240.3" y1="988.8" x2="249.3" y2="988.8" stroke="#000" stroke-width="2" stroke-linecap="butt"/>
<text x="234.0" y="999.1" font-size="30" text-anchor="end">EC</text>
<line x1="271.5" y1="1026.5" x2="271.5" y2="1034.5" stroke="#000" stroke-width="2" stroke-linecap="butt"/>
<text transform="translate(285.0,1059.0) rotate(-45)" font-size="29.3" text-anchor="end">PECAM1</text>
<line x1="308.8" y1="1026.5" x2="308.8" y2="1034.5" stroke="#000" stroke-width="2" stroke-linecap="butt"/>
<text transform="translate(322.2,1059.0) rotate(-45)" font-size="29.3" text-anchor="end">EMCN</text>
<line x1="346.0" y1="1026.5" x2="346.0" y2="1034.5" stroke="#000" stroke-width="2" stroke-linecap="butt"/>
<text transform="translate(359.5,1059.0) rotate(-45)" font-size="29.3" text-anchor="end">PROX1</text>
<line x1="383.2" y1="1026.5" x2="383.2" y2="1034.5" stroke="#000" stroke-width="2" stroke-linecap="butt"/>
<text transform="translate(396.8,1059.0) rotate(-45)" font-size="29.3" text-anchor="end">ACTA2</text>
<line x1="420.5" y1="1026.5" x2="420.5" y2="1034.5" stroke="#000" stroke-width="2" stroke-linecap="butt"/>
<text transform="translate(434.0,1059.0) rotate(-45)" font-size="29.3" text-anchor="end">TAGLN</text>
<line x1="457.8" y1="1026.5" x2="457.8" y2="1034.5" stroke="#000" stroke-width="2" stroke-linecap="butt"/>
<text transform="translate(471.2,1059.0) rotate(-45)" font-size="29.3" text-anchor="end">PDGFRB</text>
<line x1="495.0" y1="1026.5" x2="495.0" y2="1034.5" stroke="#000" stroke-width="2" stroke-linecap="butt"/>
<text transform="translate(508.5,1059.0) rotate(-45)" font-size="29.3" text-anchor="end">DCN</text>
<line x1="532.2" y1="1026.5" x2="532.2" y2="1034.5" stroke="#000" stroke-width="2" stroke-linecap="butt"/>
<text transform="translate(545.8,1059.0) rotate(-45)" font-size="29.3" text-anchor="end">PTPRC</text>
<line x1="569.5" y1="1026.5" x2="569.5" y2="1034.5" stroke="#000" stroke-width="2" stroke-linecap="butt"/>
<text transform="translate(583.0,1059.0) rotate(-45)" font-size="29.3" text-anchor="end">MRC1</text>
<circle cx="271.5" cy="668.0" r="3.50" fill="#b5a4d0"/>
<circle cx="308.8" cy="668.0" r="2.00" fill="#c1bacc"/>
<circle cx="346.0" cy="668.0" r="3.50" fill="#b09ecf"/>
<circle cx="383.2" cy="668.0" r="2.00" fill="#c1bacc"/>
<circle cx="420.5" cy="668.0" r="4.00" fill="#beb2d1"/>
<circle cx="457.8" cy="668.0" r="1.50" fill="#c1bacc"/>
<circle cx="495.0" cy="668.0" r="3.00" fill="#bdb4ca"/>
<circle cx="532.2" cy="668.0" r="8.70" fill="#0000ff"/>
<circle cx="569.5" cy="668.0" r="10.20" fill="#0000ff"/>
<circle cx="271.5" cy="732.2" r="1.50" fill="#c1bacc"/>
<circle cx="308.8" cy="732.2" r="1.50" fill="#c1bacc"/>
<circle cx="346.0" cy="732.2" r="1.50" fill="#c1bacc"/>
<circle cx="383.2" cy="732.2" r="3.00" fill="#bdb4ca"/>
<circle cx="420.5" cy="732.2" r="4.00" fill="#beb2d1"/>
<circle cx="457.8" cy="732.2" r="3.50" fill="#b5a4d0"/>
<circle cx="495.0" cy="732.2" r="8.30" fill="#0000ff"/>
<circle cx="532.2" cy="732.2" r="1.50" fill="#c1bacc"/>
<circle cx="569.5" cy="732.2" r="1.50" fill="#c1bacc"/>
<circle cx="271.5" cy="796.3" r="1.50" fill="#c1bacc"/>
<circle cx="308.8" cy="796.3" r="1.50" fill="#c1bacc"/>
<circle cx="346.0" cy="796.3" r="1.50" fill="#c1bacc"/>
<circle cx="383.2" cy="796.3" r="9.90" fill="#b295e4"/>
<circle cx="420.5" cy="796.3" r="9.70" fill="#baa2e1"/>
<circle cx="457.8" cy="796.3" r="8.10" fill="#673df8"/>
<circle cx="495.0" cy="796.3" r="1.50" fill="#c1bacc"/>
<circle cx="532.2" cy="796.3" r="1.50" fill="#c1bacc"/>
<circle cx="569.5" cy="796.3" r="1.50" fill="#c1bacc"/>
<circle cx="271.5" cy="860.5" r="3.00" fill="#b3a7c5"/>
<circle cx="308.8" cy="860.5" r="2.50" fill="#b8aec8"/>
<circle cx="346.0" cy="860.5" r="1.50" fill="#c1bacc"/>
<circle cx="383.2" cy="860.5" r="16.40" fill="#0000ff"/>
<circle cx="420.5" cy="860.5" r="17.40" fill="#0000ff"/>
<circle cx="457.8" cy="860.5" r="7.50" fill="#8e65f0"/>
<circle cx="495.0" cy="860.5" r="3.00" fill="#b3a7c5"/>
<circle cx="532.2" cy="860.5" r="1.50" fill="#c1bacc"/>
<circle cx="569.5" cy="860.5" r="1.50" fill="#c1bacc"/>
<circle cx="271.5" cy="924.6" r="4.00" fill="#b09ecf"/>
<circle cx="308.8" cy="924.6" r="6.40" fill="#855bf2"/>
<circle cx="346.0" cy="924.6" r="7.00" fill="#2710fe"/>
<circle cx="383.2" cy="924.6" r="4.00" fill="#baacd1"/>
<circle cx="420.5" cy="924.6" r="3.50" fill="#beb2d1"/>
<circle cx="457.8" cy="924.6" r="3.00" fill="#bdb4ca"/>
<circle cx="495.0" cy="924.6" r="2.50" fill="#b8aec8"/>
<circle cx="532.2" cy="924.6" r="2.00" fill="#b8aec8"/>
<circle cx="569.5" cy="924.6" r="5.50" fill="#b498e4"/>
<circle cx="271.5" cy="988.8" r="12.00" fill="#0000ff"/>
<circle cx="308.8" cy="988.8" r="8.30" fill="#5932fa"/>
<circle cx="346.0" cy="988.8" r="1.50" fill="#c1bacc"/>
<circle cx="383.2" cy="988.8" r="6.60" fill="#bda7e0"/>
<circle cx="420.5" cy="988.8" r="8.50" fill="#bda7e0"/>
<circle cx="457.8" cy="988.8" r="3.00" fill="#bdb4ca"/>
<circle cx="495.0" cy="988.8" r="2.50" fill="#b8aec8"/>
<circle cx="532.2" cy="988.8" r="1.50" fill="#c1bacc"/>
<circle cx="569.5" cy="988.8" r="1.50" fill="#c1bacc"/>
<line x1="849.8" y1="626.1" x2="849.8" y2="1024.7" stroke="#000" stroke-width="2" stroke-linecap="butt"/>
<line x1="848.8" y1="1023.7" x2="1304.5" y2="1023.7" stroke="#000" stroke-width="2" stroke-linecap="butt"/>
<line x1="840.8" y1="650.2" x2="849.8" y2="650.2" stroke="#000" stroke-width="2" stroke-linecap="butt"/>
<text x="834.0" y="660.5" font-size="30" text-anchor="end">Unknown</text>
<line x1="840.8" y1="689.2" x2="849.8" y2="689.2" stroke="#000" stroke-width="2" stroke-linecap="butt"/>
<text x="834.0" y="699.5" font-size="30" text-anchor="end">Neuron</text>
<line x1="840.8" y1="728.2" x2="849.8" y2="728.2" stroke="#000" stroke-width="2" stroke-linecap="butt"/>
<text x="834.0" y="738.5" font-size="30" text-anchor="end">Macrophage</text>
<line x1="840.8" y1="767.2" x2="849.8" y2="767.2" stroke="#000" stroke-width="2" stroke-linecap="butt"/>
<text x="834.0" y="777.5" font-size="30" text-anchor="end">Lymphocyte</text>
<line x1="840.8" y1="806.2" x2="849.8" y2="806.2" stroke="#000" stroke-width="2" stroke-linecap="butt"/>
<text x="834.0" y="816.5" font-size="30" text-anchor="end">Mesothelial cell</text>
<line x1="840.8" y1="845.2" x2="849.8" y2="845.2" stroke="#000" stroke-width="2" stroke-linecap="butt"/>
<text x="834.0" y="855.5" font-size="30" text-anchor="end">Fibroblast</text>
<line x1="840.8" y1="884.2" x2="849.8" y2="884.2" stroke="#000" stroke-width="2" stroke-linecap="butt"/>
<text x="834.0" y="894.5" font-size="30" text-anchor="end">Pericyte</text>
<line x1="840.8" y1="923.2" x2="849.8" y2="923.2" stroke="#000" stroke-width="2" stroke-linecap="butt"/>
<text x="834.0" y="933.5" font-size="30" text-anchor="end">VSMC</text>
<line x1="840.8" y1="962.2" x2="849.8" y2="962.2" stroke="#000" stroke-width="2" stroke-linecap="butt"/>
<text x="834.0" y="972.5" font-size="30" text-anchor="end">LEC</text>
<line x1="840.8" y1="1001.2" x2="849.8" y2="1001.2" stroke="#000" stroke-width="2" stroke-linecap="butt"/>
<text x="834.0" y="1011.5" font-size="30" text-anchor="end">EC</text>
<line x1="874.3" y1="1023.7" x2="874.3" y2="1031.7" stroke="#000" stroke-width="2" stroke-linecap="butt"/>
<text transform="translate(887.3,1056.7) rotate(-45)" font-size="29" text-anchor="end">PECAM1</text>
<line x1="914.8" y1="1023.7" x2="914.8" y2="1031.7" stroke="#000" stroke-width="2" stroke-linecap="butt"/>
<text transform="translate(927.8,1056.7) rotate(-45)" font-size="29" text-anchor="end">EMCN</text>
<line x1="955.2" y1="1023.7" x2="955.2" y2="1031.7" stroke="#000" stroke-width="2" stroke-linecap="butt"/>
<text transform="translate(968.2,1056.7) rotate(-45)" font-size="29" text-anchor="end">PROX1</text>
<line x1="995.7" y1="1023.7" x2="995.7" y2="1031.7" stroke="#000" stroke-width="2" stroke-linecap="butt"/>
<text transform="translate(1008.7,1056.7) rotate(-45)" font-size="29" text-anchor="end">ACTA2</text>
<line x1="1036.1" y1="1023.7" x2="1036.1" y2="1031.7" stroke="#000" stroke-width="2" stroke-linecap="butt"/>
<text transform="translate(1049.1,1056.7) rotate(-45)" font-size="29" text-anchor="end">TAGLN</text>
<line x1="1076.6" y1="1023.7" x2="1076.6" y2="1031.7" stroke="#000" stroke-width="2" stroke-linecap="butt"/>
<text transform="translate(1089.6,1056.7) rotate(-45)" font-size="29" text-anchor="end">PDGFRB</text>
<line x1="1117.1" y1="1023.7" x2="1117.1" y2="1031.7" stroke="#000" stroke-width="2" stroke-linecap="butt"/>
<text transform="translate(1130.1,1056.7) rotate(-45)" font-size="29" text-anchor="end">DCN</text>
<line x1="1157.5" y1="1023.7" x2="1157.5" y2="1031.7" stroke="#000" stroke-width="2" stroke-linecap="butt"/>
<text transform="translate(1170.5,1056.7) rotate(-45)" font-size="29" text-anchor="end">WT1</text>
<line x1="1198.0" y1="1023.7" x2="1198.0" y2="1031.7" stroke="#000" stroke-width="2" stroke-linecap="butt"/>
<text transform="translate(1211.0,1056.7) rotate(-45)" font-size="29" text-anchor="end">PTPRC</text>
<line x1="1238.4" y1="1023.7" x2="1238.4" y2="1031.7" stroke="#000" stroke-width="2" stroke-linecap="butt"/>
<text transform="translate(1251.4,1056.7) rotate(-45)" font-size="29" text-anchor="end">MRC1</text>
<line x1="1278.9" y1="1023.7" x2="1278.9" y2="1031.7" stroke="#000" stroke-width="2" stroke-linecap="butt"/>
<text transform="translate(1291.9,1056.7) rotate(-45)" font-size="29" text-anchor="end">MAPT</text>
<circle cx="874.3" cy="650.2" r="2.50" fill="#c1bacc"/>
<circle cx="914.8" cy="650.2" r="2.10" fill="#c1bacc"/>
<circle cx="955.2" cy="650.2" r="2.50" fill="#bdb4ca"/>
<circle cx="995.7" cy="650.2" r="5.50" fill="#baa2e1"/>
<circle cx="1036.1" cy="650.2" r="3.00" fill="#b8aec8"/>
<circle cx="1076.6" cy="650.2" r="2.10" fill="#c1bacc"/>
<circle cx="1117.1" cy="650.2" r="2.10" fill="#c1bacc"/>
<circle cx="1157.5" cy="650.2" r="2.10" fill="#c1bacc"/>
<circle cx="1198.0" cy="650.2" r="7.50" fill="#bda7e0"/>
<circle cx="1238.4" cy="650.2" r="2.10" fill="#c1bacc"/>
<circle cx="1278.9" cy="650.2" r="2.50" fill="#9685b9"/>
<circle cx="874.3" cy="689.2" r="2.10" fill="#c1bacc"/>
<circle cx="914.8" cy="689.2" r="2.50" fill="#bdb4ca"/>
<circle cx="955.2" cy="689.2" r="2.10" fill="#c1bacc"/>
<circle cx="995.7" cy="689.2" r="2.10" fill="#c1bacc"/>
<circle cx="1036.1" cy="689.2" r="2.10" fill="#c1bacc"/>
<circle cx="1076.6" cy="689.2" r="2.10" fill="#c1bacc"/>
<circle cx="1117.1" cy="689.2" r="4.00" fill="#baacd1"/>
<circle cx="1157.5" cy="689.2" r="2.10" fill="#c1bacc"/>
<circle cx="1198.0" cy="689.2" r="2.10" fill="#c1bacc"/>
<circle cx="1238.4" cy="689.2" r="2.10" fill="#c1bacc"/>
<circle cx="1278.9" cy="689.2" r="3.00" fill="#6350a4"/>
<circle cx="874.3" cy="728.2" r="6.00" fill="#b498e4"/>
<circle cx="914.8" cy="728.2" r="2.10" fill="#c1bacc"/>
<circle cx="955.2" cy="728.2" r="2.10" fill="#c1bacc"/>
<circle cx="995.7" cy="728.2" r="2.50" fill="#bdb4ca"/>
<circle cx="1036.1" cy="728.2" r="2.50" fill="#bdb4ca"/>
<circle cx="1076.6" cy="728.2" r="2.10" fill="#c1bacc"/>
<circle cx="1117.1" cy="728.2" r="2.50" fill="#bdb4ca"/>
<circle cx="1157.5" cy="728.2" r="2.10" fill="#c1bacc"/>
<circle cx="1198.0" cy="728.2" r="14.00" fill="#b89fe2"/>
<circle cx="1238.4" cy="728.2" r="13.60" fill="#0000ff"/>
<circle cx="1278.9" cy="728.2" r="2.10" fill="#c1bacc"/>
<circle cx="874.3" cy="767.2" r="3.50" fill="#baacd1"/>
<circle cx="914.8" cy="767.2" r="2.10" fill="#c1bacc"/>
<circle cx="955.2" cy="767.2" r="2.10" fill="#c1bacc"/>
<circle cx="995.7" cy="767.2" r="3.00" fill="#bdb4ca"/>
<circle cx="1036.1" cy="767.2" r="2.10" fill="#c1bacc"/>
<circle cx="1076.6" cy="767.2" r="2.10" fill="#c1bacc"/>
<circle cx="1117.1" cy="767.2" r="2.50" fill="#bdb4ca"/>
<circle cx="1157.5" cy="767.2" r="2.10" fill="#c1bacc"/>
<circle cx="1198.0" cy="767.2" r="17.40" fill="#0000ff"/>
<circle cx="1238.4" cy="767.2" r="2.50" fill="#c1bacc"/>
<circle cx="1278.9" cy="767.2" r="2.10" fill="#c1bacc"/>
<circle cx="874.3" cy="806.2" r="2.10" fill="#c1bacc"/>
<circle cx="914.8" cy="806.2" r="2.10" fill="#c1bacc"/>
<circle cx="955.2" cy="806.2" r="2.50" fill="#bdb4ca"/>
<circle cx="995.7" cy="806.2" r="3.00" fill="#bdb4ca"/>
<circle cx="1036.1" cy="806.2" r="2.10" fill="#c1bacc"/>
<circle cx="1076.6" cy="806.2" r="2.10" fill="#c1bacc"/>
<circle cx="1117.1" cy="806.2" r="4.00" fill="#baacd1"/>
<circle cx="1157.5" cy="806.2" r="12.70" fill="#0000ff"/>
<circle cx="1198.0" cy="806.2" r="2.10" fill="#c1bacc"/>
<circle cx="1238.4" cy="806.2" r="2.10" fill="#c1bacc"/>
<circle cx="1278.9" cy="806.2" r="3.50" fill="#6449c2"/>
<circle cx="874.3" cy="845.2" r="2.10" fill="#c1bacc"/>
<circle cx="914.8" cy="845.2" r="2.10" fill="#c1bacc"/>
<circle cx="955.2" cy="845.2" r="2.10" fill="#c1bacc"/>
<circle cx="995.7" cy="845.2" r="3.50" fill="#baacd1"/>
<circle cx="1036.1" cy="845.2" r="3.00" fill="#b8aec8"/>
<circle cx="1076.6" cy="845.2" r="5.50" fill="#b498e4"/>
<circle cx="1117.1" cy="845.2" r="16.70" fill="#0000ff"/>
<circle cx="1157.5" cy="845.2" r="2.50" fill="#b8aec8"/>
<circle cx="1198.0" cy="845.2" r="2.10" fill="#c1bacc"/>
<circle cx="1238.4" cy="845.2" r="2.10" fill="#c1bacc"/>
<circle cx="1278.9" cy="845.2" r="2.10" fill="#c1bacc"/>
<circle cx="874.3" cy="884.2" r="3.50" fill="#baacd1"/>
<circle cx="914.8" cy="884.2" r="2.50" fill="#bdb4ca"/>
<circle cx="955.2" cy="884.2" r="2.10" fill="#c1bacc"/>
<circle cx="995.7" cy="884.2" r="12.30" fill="#6b42f7"/>
<circle cx="1036.1" cy="884.2" r="7.50" fill="#5932fa"/>
<circle cx="1076.6" cy="884.2" r="14.20" fill="#1e0bfe"/>
<circle cx="1117.1" cy="884.2" r="2.50" fill="#bdb4ca"/>
<circle cx="1157.5" cy="884.2" r="2.10" fill="#c1bacc"/>
<circle cx="1198.0" cy="884.2" r="2.10" fill="#c1bacc"/>
<circle cx="1238.4" cy="884.2" r="2.10" fill="#c1bacc"/>
<circle cx="1278.9" cy="884.2" r="2.10" fill="#c1bacc"/>
<circle cx="874.3" cy="923.2" r="2.10" fill="#c1bacc"/>
<circle cx="914.8" cy="923.2" r="2.10" fill="#c1bacc"/>
<circle cx="955.2" cy="923.2" r="2.10" fill="#c1bacc"/>
<circle cx="995.7" cy="923.2" r="12.30" fill="#784ef5"/>
<circle cx="1036.1" cy="923.2" r="7.00" fill="#5f37f9"/>
<circle cx="1076.6" cy="923.2" r="5.50" fill="#b295e4"/>
<circle cx="1117.1" cy="923.2" r="3.00" fill="#b8aec8"/>
<circle cx="1157.5" cy="923.2" r="2.10" fill="#c1bacc"/>
<circle cx="1198.0" cy="923.2" r="2.10" fill="#c1bacc"/>
<circle cx="1238.4" cy="923.2" r="2.10" fill="#c1bacc"/>
<circle cx="1278.9" cy="923.2" r="2.10" fill="#c1bacc"/>
<circle cx="874.3" cy="962.2" r="11.20" fill="#af91e6"/>
<circle cx="914.8" cy="962.2" r="6.00" fill="#b89fe2"/>
<circle cx="955.2" cy="962.2" r="12.30" fill="#0000ff"/>
<circle cx="995.7" cy="962.2" r="2.50" fill="#bdb4ca"/>
<circle cx="1036.1" cy="962.2" r="2.10" fill="#c1bacc"/>
<circle cx="1076.6" cy="962.2" r="2.50" fill="#bdb4ca"/>
<circle cx="1117.1" cy="962.2" r="3.00" fill="#b8aec8"/>
<circle cx="1157.5" cy="962.2" r="2.50" fill="#c1bacc"/>
<circle cx="1198.0" cy="962.2" r="2.50" fill="#c1bacc"/>
<circle cx="1238.4" cy="962.2" r="8.50" fill="#af91e6"/>
<circle cx="1278.9" cy="962.2" r="2.50" fill="#c1bacc"/>
<circle cx="874.3" cy="1001.2" r="16.50" fill="#0000ff"/>
<circle cx="914.8" cy="1001.2" r="14.80" fill="#1e0bfe"/>
<circle cx="955.2" cy="1001.2" r="2.50" fill="#bdb4ca"/>
<circle cx="995.7" cy="1001.2" r="3.00" fill="#bdb4ca"/>
<circle cx="1036.1" cy="1001.2" r="3.00" fill="#bdb4ca"/>
<circle cx="1076.6" cy="1001.2" r="2.50" fill="#c1bacc"/>
<circle cx="1117.1" cy="1001.2" r="3.00" fill="#bdb4ca"/>
<circle cx="1157.5" cy="1001.2" r="2.50" fill="#c1bacc"/>
<circle cx="1198.0" cy="1001.2" r="2.50" fill="#c1bacc"/>
<circle cx="1238.4" cy="1001.2" r="3.00" fill="#b8aec8"/>
<circle cx="1278.9" cy="1001.2" r="2.10" fill="#c1bacc"/>
<text x="1336.8" y="617.3" font-size="34.3" text-anchor="start">Average Expression</text>
<defs><linearGradient id="gB" x1="0" y1="1" x2="0" y2="0"><stop offset="0.00" stop-color="#d3d3d3"/><stop offset="0.05" stop-color="#d0ccd5"/><stop offset="0.10" stop-color="#ccc4d8"/><stop offset="0.15" stop-color="#c8bdda"/><stop offset="0.20" stop-color="#c5b5dc"/><stop offset="0.25" stop-color="#c1aede"/><stop offset="0.30" stop-color="#bda7e0"/><stop offset="0.35" stop-color="#b89fe2"/><stop offset="0.40" stop-color="#b498e4"/><stop offset="0.45" stop-color="#af91e6"/><stop offset="0.50" stop-color="#9d77ec"/><stop offset="0.55" stop-color="#966eee"/><stop offset="0.60" stop-color="#8e65f0"/><stop offset="0.65" stop-color="#855bf2"/><stop offset="0.70" stop-color="#7c51f4"/><stop offset="0.75" stop-color="#7248f6"/><stop offset="0.80" stop-color="#673df8"/><stop offset="0.85" stop-color="#5932fa"/><stop offset="0.90" stop-color="#4926fb"/><stop offset="0.95" stop-color="#3318fd"/><stop offset="1.00" stop-color="#0000ff"/></linearGradient><linearGradient id="gE" x1="0" y1="1" x2="0" y2="0"><stop offset="0.00" stop-color="#ffffff"/><stop offset="0.05" stop-color="#fcf3f1"/><stop offset="0.10" stop-color="#f8e7e3"/><stop offset="0.15" stop-color="#f4dbd5"/><stop offset="0.20" stop-color="#f0cfc7"/><stop offset="0.25" stop-color="#ebc3b9"/><stop offset="0.30" stop-color="#e7b7ac"/><stop offset="0.35" stop-color="#e2ac9f"/><stop offset="0.40" stop-color="#dca091"/><stop offset="0.45" stop-color="#d79585"/><stop offset="0.50" stop-color="#d18978"/><stop offset="0.55" stop-color="#cb7e6b"/><stop offset="0.60" stop-color="#c5725f"/><stop offset="0.65" stop-color="#bf6753"/><stop offset="0.70" stop-color="#b85b47"/><stop offset="0.75" stop-color="#b14f3b"/><stop offset="0.80" stop-color="#aa4430"/><stop offset="0.85" stop-color="#a23724"/><stop offset="0.90" stop-color="#9b2919"/><stop offset="0.95" stop-color="#93190d"/><stop offset="1.00" stop-color="#8b0000"/></linearGradient></defs>
<rect x="1338.4" y="637.6" width="38.0" height="189.6" fill="url(#gB)"/>
<line x1="1338.4" y1="667.3" x2="1346.0" y2="667.3" stroke="#ffffff" stroke-width="1.2" stroke-linecap="butt"/>
<line x1="1369.0" y1="667.3" x2="1376.4" y2="667.3" stroke="#ffffff" stroke-width="1.2" stroke-linecap="butt"/>
<text x="1392.5" y="677.1" font-size="28" text-anchor="start">2</text>
<line x1="1338.4" y1="725.7" x2="1346.0" y2="725.7" stroke="#ffffff" stroke-width="1.2" stroke-linecap="butt"/>
<line x1="1369.0" y1="725.7" x2="1376.4" y2="725.7" stroke="#ffffff" stroke-width="1.2" stroke-linecap="butt"/>
<text x="1392.5" y="735.5" font-size="28" text-anchor="start">1</text>
<line x1="1338.4" y1="784.1" x2="1346.0" y2="784.1" stroke="#ffffff" stroke-width="1.2" stroke-linecap="butt"/>
<line x1="1369.0" y1="784.1" x2="1376.4" y2="784.1" stroke="#ffffff" stroke-width="1.2" stroke-linecap="butt"/>
<text x="1392.5" y="793.9" font-size="28" text-anchor="start">0</text>
<text x="1338.5" y="889.8" font-size="34.3" text-anchor="start">Percent Expressed</text>
<circle cx="1357.6" cy="929.5" r="1.10" fill="#000"/>
<text x="1392.5" y="939.3" font-size="28" text-anchor="start">0</text>
<circle cx="1357.6" cy="968.2" r="6.30" fill="#000"/>
<text x="1392.5" y="978.0" font-size="28" text-anchor="start">25</text>
<circle cx="1357.6" cy="1005.7" r="9.50" fill="#000"/>
<text x="1392.5" y="1015.5" font-size="28" text-anchor="start">50</text>
<circle cx="1357.6" cy="1044.1" r="13.60" fill="#000"/>
<text x="1392.5" y="1053.9" font-size="28" text-anchor="start">75</text>
<text transform="translate(0.60,1259.60) scale(0.79,1)" font-size="56.8" font-weight="bold" stroke="#000" stroke-width="1.6" stroke-linejoin="round">C</text>
<rect x="243.5" y="1245.9" width="202.5" height="45.4" fill="#fefefe" stroke="#000" stroke-width="2.6"/>
<rect x="463.9" y="1245.9" width="203.4" height="45.4" fill="#fefefe" stroke="#000" stroke-width="2.6"/>
<text x="344.8" y="1279.5" font-size="31" text-anchor="middle" fill="#1a1a1a">Pericyte/EC</text>
<text x="565.6" y="1279.5" font-size="31" text-anchor="middle" fill="#1a1a1a">VSMC/EC</text>
<rect x="250.1" y="1319.7" width="188.5" height="154.9" fill="#5289b9"/>
<rect x="250.1" y="1491.2" width="93.8" height="154.0" fill="#5289b9"/>
<rect x="471.5" y="1319.7" width="4.2" height="154.9" fill="#5289b9"/>
<rect x="471.5" y="1491.2" width="188.1" height="154.0" fill="#5289b9"/>
<line x1="240.1" y1="1294.3" x2="240.1" y2="1671.7" stroke="#000" stroke-width="2" stroke-linecap="butt"/>
<line x1="239.1" y1="1670.7" x2="448.0" y2="1670.7" stroke="#000" stroke-width="2" stroke-linecap="butt"/>
<line x1="462.3" y1="1670.7" x2="668.8" y2="1670.7" stroke="#000" stroke-width="2" stroke-linecap="butt"/>
<line x1="232.0" y1="1396.9" x2="240.1" y2="1396.9" stroke="#000" stroke-width="2" stroke-linecap="butt"/>
<text x="227.5" y="1407.7" font-size="31" text-anchor="end" fill="#1a1a1a">Arterioles</text>
<line x1="232.0" y1="1568.0" x2="240.1" y2="1568.0" stroke="#000" stroke-width="2" stroke-linecap="butt"/>
<text x="227.5" y="1578.8" font-size="31" text-anchor="end" fill="#1a1a1a">Thoracic Aorta</text>
<line x1="250.1" y1="1670.7" x2="250.1" y2="1677.3" stroke="#000" stroke-width="2" stroke-linecap="butt"/>
<text x="250.1" y="1700.2" font-size="21" text-anchor="middle" fill="#4d4d4d">0.0</text>
<line x1="322.1" y1="1670.7" x2="322.1" y2="1677.3" stroke="#000" stroke-width="2" stroke-linecap="butt"/>
<text x="322.1" y="1700.2" font-size="21" text-anchor="middle" fill="#4d4d4d">0.5</text>
<line x1="394.1" y1="1670.7" x2="394.1" y2="1677.3" stroke="#000" stroke-width="2" stroke-linecap="butt"/>
<text x="394.1" y="1700.2" font-size="21" text-anchor="middle" fill="#4d4d4d">1.0</text>
<line x1="471.5" y1="1670.7" x2="471.5" y2="1677.3" stroke="#000" stroke-width="2" stroke-linecap="butt"/>
<text x="471.5" y="1700.2" font-size="21" text-anchor="middle" fill="#4d4d4d">0</text>
<line x1="522.0" y1="1670.7" x2="522.0" y2="1677.3" stroke="#000" stroke-width="2" stroke-linecap="butt"/>
<text x="522.0" y="1700.2" font-size="21" text-anchor="middle" fill="#4d4d4d">3</text>
<line x1="572.5" y1="1670.7" x2="572.5" y2="1677.3" stroke="#000" stroke-width="2" stroke-linecap="butt"/>
<text x="572.5" y="1700.2" font-size="21" text-anchor="middle" fill="#4d4d4d">6</text>
<line x1="622.9" y1="1670.7" x2="622.9" y2="1677.3" stroke="#000" stroke-width="2" stroke-linecap="butt"/>
<text x="622.9" y="1700.2" font-size="21" text-anchor="middle" fill="#4d4d4d">9</text>
<text x="455.2" y="1731.8" font-size="27.5" text-anchor="middle" fill="#1a1a1a">Ratio</text>
<text transform="translate(802.00,1259.30) scale(0.945,1)" font-size="54.6" font-weight="bold" stroke="#000" stroke-width="1.6" stroke-linejoin="round">D</text>
<text x="1251.2" y="1262.5" font-size="39.5" text-anchor="middle" fill="#1a1a1a">Expression Correlation</text>
<line x1="1081.7" y1="1286.5" x2="1081.7" y2="1578.2" stroke="#ebebeb" stroke-width="1.1" stroke-linecap="butt"/>
<line x1="1129.4" y1="1286.5" x2="1129.4" y2="1578.2" stroke="#ebebeb" stroke-width="1.1" stroke-linecap="butt"/>
<line x1="1177.1" y1="1286.5" x2="1177.1" y2="1578.2" stroke="#ebebeb" stroke-width="1.1" stroke-linecap="butt"/>
<line x1="1224.8" y1="1286.5" x2="1224.8" y2="1578.2" stroke="#ebebeb" stroke-width="1.1" stroke-linecap="butt"/>
<line x1="1272.5" y1="1286.5" x2="1272.5" y2="1578.2" stroke="#ebebeb" stroke-width="1.1" stroke-linecap="butt"/>
<line x1="1320.3" y1="1286.5" x2="1320.3" y2="1578.2" stroke="#ebebeb" stroke-width="1.1" stroke-linecap="butt"/>
<line x1="1368.0" y1="1286.5" x2="1368.0" y2="1578.2" stroke="#ebebeb" stroke-width="1.1" stroke-linecap="butt"/>
<line x1="1415.7" y1="1286.5" x2="1415.7" y2="1578.2" stroke="#ebebeb" stroke-width="1.1" stroke-linecap="butt"/>
<line x1="1463.4" y1="1286.5" x2="1463.4" y2="1578.2" stroke="#ebebeb" stroke-width="1.1" stroke-linecap="butt"/>
<line x1="1511.1" y1="1286.5" x2="1511.1" y2="1578.2" stroke="#ebebeb" stroke-width="1.1" stroke-linecap="butt"/>
<line x1="1052.8" y1="1315.0" x2="1540.0" y2="1315.0" stroke="#ebebeb" stroke-width="1.1" stroke-linecap="butt"/>
<line x1="1052.8" y1="1361.9" x2="1540.0" y2="1361.9" stroke="#ebebeb" stroke-width="1.1" stroke-linecap="butt"/>
<line x1="1052.8" y1="1408.9" x2="1540.0" y2="1408.9" stroke="#ebebeb" stroke-width="1.1" stroke-linecap="butt"/>
<line x1="1052.8" y1="1455.8" x2="1540.0" y2="1455.8" stroke="#ebebeb" stroke-width="1.1" stroke-linecap="butt"/>
<line x1="1052.8" y1="1502.8" x2="1540.0" y2="1502.8" stroke="#ebebeb" stroke-width="1.1" stroke-linecap="butt"/>
<line x1="1052.8" y1="1549.7" x2="1540.0" y2="1549.7" stroke="#ebebeb" stroke-width="1.1" stroke-linecap="butt"/>
<rect x="1057.80" y="1291.50" width="48.12" height="47.35" fill="#f0674c"/>
<rect x="1105.52" y="1291.50" width="48.12" height="47.35" fill="#efebfb"/>
<rect x="1153.24" y="1291.50" width="48.12" height="47.35" fill="#e5dcfd"/>
<rect x="1200.96" y="1291.50" width="48.12" height="47.35" fill="#dccbfe"/>
<rect x="1248.68" y="1291.50" width="48.12" height="47.35" fill="#d8c8fd"/>
<rect x="1296.40" y="1291.50" width="48.12" height="47.35" fill="#e6e0fd"/>
<rect x="1344.12" y="1291.50" width="48.12" height="47.35" fill="#dccbfd"/>
<rect x="1391.84" y="1291.50" width="48.12" height="47.35" fill="#a379fc"/>
<rect x="1439.56" y="1291.50" width="48.12" height="47.35" fill="#ece8fc"/>
<rect x="1487.28" y="1291.50" width="48.12" height="47.35" fill="#e3d8fd"/>
<rect x="1057.80" y="1338.45" width="48.12" height="47.35" fill="#efa48e"/>
<rect x="1105.52" y="1338.45" width="48.12" height="47.35" fill="#f6472b"/>
<rect x="1153.24" y="1338.45" width="48.12" height="47.35" fill="#e0d4fe"/>
<rect x="1200.96" y="1338.45" width="48.12" height="47.35" fill="#eeeafd"/>
<rect x="1248.68" y="1338.45" width="48.12" height="47.35" fill="#ece8fc"/>
<rect x="1296.40" y="1338.45" width="48.12" height="47.35" fill="#f7f6fb"/>
<rect x="1344.12" y="1338.45" width="48.12" height="47.35" fill="#e4defd"/>
<rect x="1391.84" y="1338.45" width="48.12" height="47.35" fill="#be9cfc"/>
<rect x="1439.56" y="1338.45" width="48.12" height="47.35" fill="#f6e9e2"/>
<rect x="1487.28" y="1338.45" width="48.12" height="47.35" fill="#e6e0fc"/>
<rect x="1057.80" y="1385.40" width="48.12" height="47.35" fill="#b592fd"/>
<rect x="1105.52" y="1385.40" width="48.12" height="47.35" fill="#9966ff"/>
<rect x="1153.24" y="1385.40" width="48.12" height="47.35" fill="#ee9c83"/>
<rect x="1200.96" y="1385.40" width="48.12" height="47.35" fill="#f26b50"/>
<rect x="1248.68" y="1385.40" width="48.12" height="47.35" fill="#ece8fc"/>
<rect x="1296.40" y="1385.40" width="48.12" height="47.35" fill="#ddd0fd"/>
<rect x="1344.12" y="1385.40" width="48.12" height="47.35" fill="#d0bbfe"/>
<rect x="1391.84" y="1385.40" width="48.12" height="47.35" fill="#a078fd"/>
<rect x="1439.56" y="1385.40" width="48.12" height="47.35" fill="#eeeafc"/>
<rect x="1487.28" y="1385.40" width="48.12" height="47.35" fill="#fbf7f6"/>
<rect x="1057.80" y="1432.35" width="48.12" height="47.35" fill="#cbb3fe"/>
<rect x="1105.52" y="1432.35" width="48.12" height="47.35" fill="#b593fd"/>
<rect x="1153.24" y="1432.35" width="48.12" height="47.35" fill="#f07e66"/>
<rect x="1200.96" y="1432.35" width="48.12" height="47.35" fill="#fe2f1a"/>
<rect x="1248.68" y="1432.35" width="48.12" height="47.35" fill="#fffdfe"/>
<rect x="1296.40" y="1432.35" width="48.12" height="47.35" fill="#e4dcfd"/>
<rect x="1344.12" y="1432.35" width="48.12" height="47.35" fill="#e8e1fd"/>
<rect x="1391.84" y="1432.35" width="48.12" height="47.35" fill="#ae88fc"/>
<rect x="1439.56" y="1432.35" width="48.12" height="47.35" fill="#faf6f4"/>
<rect x="1487.28" y="1432.35" width="48.12" height="47.35" fill="#f2d3c8"/>
<rect x="1057.80" y="1479.30" width="48.12" height="47.35" fill="#e9e2fd"/>
<rect x="1105.52" y="1479.30" width="48.12" height="47.35" fill="#e2d7fd"/>
<rect x="1153.24" y="1479.30" width="48.12" height="47.35" fill="#eeb09a"/>
<rect x="1200.96" y="1479.30" width="48.12" height="47.35" fill="#eeb09a"/>
<rect x="1248.68" y="1479.30" width="48.12" height="47.35" fill="#fe2c18"/>
<rect x="1296.40" y="1479.30" width="48.12" height="47.35" fill="#f0bea9"/>
<rect x="1344.12" y="1479.30" width="48.12" height="47.35" fill="#fcf7f6"/>
<rect x="1391.84" y="1479.30" width="48.12" height="47.35" fill="#ddcdfd"/>
<rect x="1439.56" y="1479.30" width="48.12" height="47.35" fill="#eea28a"/>
<rect x="1487.28" y="1479.30" width="48.12" height="47.35" fill="#f9f6f4"/>
<rect x="1057.80" y="1526.25" width="48.12" height="47.35" fill="#b28cfe"/>
<rect x="1105.52" y="1526.25" width="48.12" height="47.35" fill="#b695fc"/>
<rect x="1153.24" y="1526.25" width="48.12" height="47.35" fill="#9966ff"/>
<rect x="1200.96" y="1526.25" width="48.12" height="47.35" fill="#a67bfe"/>
<rect x="1248.68" y="1526.25" width="48.12" height="47.35" fill="#c8affd"/>
<rect x="1296.40" y="1526.25" width="48.12" height="47.35" fill="#e0d2fd"/>
<rect x="1344.12" y="1526.25" width="48.12" height="47.35" fill="#f1c4b2"/>
<rect x="1391.84" y="1526.25" width="48.12" height="47.35" fill="#fe1e0e"/>
<rect x="1439.56" y="1526.25" width="48.12" height="47.35" fill="#d8c6fd"/>
<rect x="1487.28" y="1526.25" width="48.12" height="47.35" fill="#fefefe"/>
<text x="1038.0" y="1325.2" font-size="29.5" text-anchor="end" fill="#1a1a1a">EC</text>
<text x="1038.0" y="1372.1" font-size="29.5" text-anchor="end" fill="#1a1a1a">LEC</text>
<text x="1038.0" y="1419.1" font-size="29.5" text-anchor="end" fill="#1a1a1a">VSMC</text>
<text x="1038.0" y="1466.0" font-size="29.5" text-anchor="end" fill="#1a1a1a">Pericyte</text>
<text x="1038.0" y="1513.0" font-size="29.5" text-anchor="end" fill="#1a1a1a">Fibroblast</text>
<text x="1038.0" y="1559.9" font-size="29.5" text-anchor="end" fill="#1a1a1a">Macrophage</text>
<text transform="translate(1095.2,1607.0) rotate(-45)" font-size="29.5" text-anchor="end" fill="#1a1a1a">EC</text>
<text transform="translate(1142.9,1607.0) rotate(-45)" font-size="29.5" text-anchor="end" fill="#1a1a1a">LEC</text>
<text transform="translate(1190.6,1607.0) rotate(-45)" font-size="29.5" text-anchor="end" fill="#1a1a1a">VSMC</text>
<text transform="translate(1238.3,1607.0) rotate(-45)" font-size="29.5" text-anchor="end" fill="#1a1a1a">Pericyte</text>
<text transform="translate(1286.0,1607.0) rotate(-45)" font-size="29.5" text-anchor="end" fill="#1a1a1a">Fibroblast</text>
<text transform="translate(1333.8,1607.0) rotate(-45)" font-size="29.5" text-anchor="end" fill="#1a1a1a">Mesothelial cell</text>
<text transform="translate(1381.5,1607.0) rotate(-45)" font-size="29.5" text-anchor="end" fill="#1a1a1a">Lymphocyte</text>
<text transform="translate(1429.2,1607.0) rotate(-45)" font-size="29.5" text-anchor="end" fill="#1a1a1a">Macrophage</text>
<text transform="translate(1476.9,1607.0) rotate(-45)" font-size="29.5" text-anchor="end" fill="#1a1a1a">Neuron</text>
<text transform="translate(1524.6,1607.0) rotate(-45)" font-size="29.5" text-anchor="end" fill="#1a1a1a">Unknown</text>
<text x="1296.6" y="1784.0" font-size="32" text-anchor="middle" fill="#1a1a1a">Thoracic Aorta</text>
<text transform="translate(859.9,1432.3) rotate(-90)" font-size="32" text-anchor="middle" fill="#1a1a1a">Arterioles</text>
<text x="1587.8" y="1308.1" font-size="32" text-anchor="start" fill="#1a1a1a">Correlation</text>
<defs><linearGradient id="gD" x1="0" y1="1" x2="0" y2="0"><stop offset="0.000" stop-color="#9966ff"/><stop offset="0.025" stop-color="#a16fff"/><stop offset="0.050" stop-color="#a979ff"/><stop offset="0.075" stop-color="#b082ff"/><stop offset="0.100" stop-color="#b78bff"/><stop offset="0.125" stop-color="#be95ff"/><stop offset="0.150" stop-color="#c49eff"/><stop offset="0.175" stop-color="#cba7ff"/><stop offset="0.200" stop-color="#d1b0ff"/><stop offset="0.225" stop-color="#d7baff"/><stop offset="0.250" stop-color="#ddc3ff"/><stop offset="0.275" stop-color="#e2ccff"/><stop offset="0.300" stop-color="#e8d6ff"/><stop offset="0.325" stop-color="#eedfff"/><stop offset="0.350" stop-color="#f3e9ff"/><stop offset="0.375" stop-color="#f8f2ff"/><stop offset="0.400" stop-color="#fdfcff"/><stop offset="0.425" stop-color="#fffaf8"/><stop offset="0.450" stop-color="#fff2ed"/><stop offset="0.475" stop-color="#ffeae3"/><stop offset="0.500" stop-color="#ffe2d8"/><stop offset="0.525" stop-color="#ffdace"/><stop offset="0.550" stop-color="#ffd3c3"/><stop offset="0.575" stop-color="#ffcbb9"/><stop offset="0.600" stop-color="#ffc3af"/><stop offset="0.625" stop-color="#ffbba5"/><stop offset="0.650" stop-color="#ffb29b"/><stop offset="0.675" stop-color="#ffaa91"/><stop offset="0.700" stop-color="#ffa287"/><stop offset="0.725" stop-color="#ff9a7d"/><stop offset="0.750" stop-color="#ff9173"/><stop offset="0.775" stop-color="#ff896a"/><stop offset="0.800" stop-color="#ff8060"/><stop offset="0.825" stop-color="#ff7756"/><stop offset="0.850" stop-color="#ff6d4d"/><stop offset="0.875" stop-color="#ff6443"/><stop offset="0.900" stop-color="#ff593a"/><stop offset="0.925" stop-color="#ff4e30"/><stop offset="0.950" stop-color="#ff4126"/><stop offset="0.975" stop-color="#ff321b"/><stop offset="1.000" stop-color="#ff1e0e"/></linearGradient></defs>
<rect x="1588.4" y="1327.9" width="51.3" height="253.9" fill="url(#gD)"/>
<line x1="1588.4" y1="1382.1" x2="1598.5" y2="1382.1" stroke="#ffffff" stroke-width="1.2" stroke-linecap="butt"/>
<line x1="1629.5" y1="1382.1" x2="1639.7" y2="1382.1" stroke="#ffffff" stroke-width="1.2" stroke-linecap="butt"/>
<text x="1655.0" y="1390.9" font-size="25" text-anchor="start" fill="#1a1a1a">0.6</text>
<line x1="1588.4" y1="1447.4" x2="1598.5" y2="1447.4" stroke="#ffffff" stroke-width="1.2" stroke-linecap="butt"/>
<line x1="1629.5" y1="1447.4" x2="1639.7" y2="1447.4" stroke="#ffffff" stroke-width="1.2" stroke-linecap="butt"/>
<text x="1655.0" y="1456.2" font-size="25" text-anchor="start" fill="#1a1a1a">0.4</text>
<line x1="1588.4" y1="1513.2" x2="1598.5" y2="1513.2" stroke="#ffffff" stroke-width="1.2" stroke-linecap="butt"/>
<line x1="1629.5" y1="1513.2" x2="1639.7" y2="1513.2" stroke="#ffffff" stroke-width="1.2" stroke-linecap="butt"/>
<text x="1655.0" y="1522.0" font-size="25" text-anchor="start" fill="#1a1a1a">0.2</text>
<line x1="1588.4" y1="1578.6" x2="1598.5" y2="1578.6" stroke="#ffffff" stroke-width="1.2" stroke-linecap="butt"/>
<line x1="1629.5" y1="1578.6" x2="1639.7" y2="1578.6" stroke="#ffffff" stroke-width="1.2" stroke-linecap="butt"/>
<text x="1655.0" y="1587.4" font-size="25" text-anchor="start" fill="#1a1a1a">0.0</text>
<text transform="translate(2.20,1892.60) scale(0.71,1)" font-size="54.8" font-weight="bold" stroke="#000" stroke-width="1.6" stroke-linejoin="round">E</text>
<rect x="239.7" y="1869.4" width="266.5" height="43.9" fill="#fefefe" stroke="#000" stroke-width="2.6"/>
<rect x="239.7" y="1915.9" width="266.5" height="43.4" fill="#fefefe" stroke="#000" stroke-width="2.6"/>
<text x="372.9" y="1901.3" font-size="27.5" text-anchor="middle" fill="#1a1a1a">Diastolic BP</text>
<text x="372.9" y="1948.5" font-size="27.5" text-anchor="middle" fill="#1a1a1a">Keaton JM, et al.</text>
<rect x="513.6" y="1869.4" width="265.5" height="43.9" fill="#fefefe" stroke="#000" stroke-width="2.6"/>
<rect x="513.6" y="1915.9" width="265.5" height="43.4" fill="#fefefe" stroke="#000" stroke-width="2.6"/>
<text x="646.3" y="1901.3" font-size="27.5" text-anchor="middle" fill="#1a1a1a">Systolic BP</text>
<text x="646.3" y="1948.5" font-size="27.5" text-anchor="middle" fill="#1a1a1a">Keaton JM, et al.</text>
<rect x="786.5" y="1869.4" width="266.2" height="43.9" fill="#fefefe" stroke="#000" stroke-width="2.6"/>
<rect x="786.5" y="1915.9" width="266.2" height="43.4" fill="#fefefe" stroke="#000" stroke-width="2.6"/>
<text x="919.6" y="1901.3" font-size="27.5" text-anchor="middle" fill="#1a1a1a">Pulse pressure</text>
<text x="919.6" y="1948.5" font-size="27.5" text-anchor="middle" fill="#1a1a1a">Keaton JM, et al.</text>
<rect x="1057.0" y="1963.7" width="41.8" height="281.6" fill="#fefefe" stroke="#000" stroke-width="2.6"/>
<rect x="1057.0" y="2256.7" width="41.8" height="213.9" fill="#fefefe" stroke="#000" stroke-width="2.6"/>
<text transform="translate(1068.5,2104.5) rotate(90)" font-size="27.5" text-anchor="middle" fill="#1a1a1a">Arterioles</text>
<text transform="translate(1068.5,2363.3) rotate(90)" font-size="27.5" text-anchor="middle" fill="#1a1a1a">Thoracic aorta</text>
<line x1="238.5" y1="1960.7" x2="238.5" y2="2246.0" stroke="#000" stroke-width="2" stroke-linecap="butt"/>
<line x1="238.5" y1="2254.9" x2="238.5" y2="2473.9" stroke="#000" stroke-width="2" stroke-linecap="butt"/>
<line x1="237.5" y1="2472.9" x2="507.3" y2="2472.9" stroke="#000" stroke-width="2" stroke-linecap="butt"/>
<line x1="512.5" y1="2472.9" x2="780.9" y2="2472.9" stroke="#000" stroke-width="2" stroke-linecap="butt"/>
<line x1="785.3" y1="2472.9" x2="1053.9" y2="2472.9" stroke="#000" stroke-width="2" stroke-linecap="butt"/>
<line x1="373.3" y1="2472.9" x2="373.3" y2="2479.0" stroke="#000" stroke-width="2" stroke-linecap="butt"/>
<line x1="646.1" y1="2472.9" x2="646.1" y2="2479.0" stroke="#000" stroke-width="2" stroke-linecap="butt"/>
<line x1="919.3" y1="2472.9" x2="919.3" y2="2479.0" stroke="#000" stroke-width="2" stroke-linecap="butt"/>
<line x1="231.5" y1="2002.5" x2="238.5" y2="2002.5" stroke="#000" stroke-width="2" stroke-linecap="butt"/>
<text x="225.0" y="2012.1" font-size="27.5" text-anchor="end" fill="#1a1a1a">EC</text>
<line x1="231.5" y1="2070.5" x2="238.5" y2="2070.5" stroke="#000" stroke-width="2" stroke-linecap="butt"/>
<text x="225.0" y="2080.1" font-size="27.5" text-anchor="end" fill="#1a1a1a">Fibroblast</text>
<line x1="231.5" y1="2138.6" x2="238.5" y2="2138.6" stroke="#000" stroke-width="2" stroke-linecap="butt"/>
<text x="225.0" y="2148.2" font-size="27.5" text-anchor="end" fill="#1a1a1a">Pericyte</text>
<line x1="231.5" y1="2207.0" x2="238.5" y2="2207.0" stroke="#000" stroke-width="2" stroke-linecap="butt"/>
<text x="225.0" y="2216.6" font-size="27.5" text-anchor="end" fill="#1a1a1a">VSMC</text>
<line x1="231.5" y1="2295.3" x2="238.5" y2="2295.3" stroke="#000" stroke-width="2" stroke-linecap="butt"/>
<text x="225.0" y="2304.9" font-size="27.5" text-anchor="end" fill="#1a1a1a">Fibroblast</text>
<line x1="231.5" y1="2363.4" x2="238.5" y2="2363.4" stroke="#000" stroke-width="2" stroke-linecap="butt"/>
<text x="225.0" y="2373.0" font-size="27.5" text-anchor="end" fill="#1a1a1a">Pericyte</text>
<line x1="231.5" y1="2431.5" x2="238.5" y2="2431.5" stroke="#000" stroke-width="2" stroke-linecap="butt"/>
<text x="225.0" y="2441.1" font-size="27.5" text-anchor="end" fill="#1a1a1a">VSMC</text>
<circle cx="373.3" cy="2002.5" r="9.35" fill="#f0dcd8" stroke="#1a1a1a" stroke-width="1.5"/>
<circle cx="373.3" cy="2138.6" r="14.95" fill="#8b1410" stroke="#1a1a1a" stroke-width="1.5"/>
<circle cx="373.3" cy="2207.0" r="10.35" fill="#efdad6" stroke="#1a1a1a" stroke-width="1.5"/>
<circle cx="373.3" cy="2295.3" r="3.15" fill="#fdfbfb" stroke="#1a1a1a" stroke-width="1.5"/>
<circle cx="373.3" cy="2363.4" r="6.65" fill="#fbf5f3" stroke="#1a1a1a" stroke-width="1.5"/>
<circle cx="373.3" cy="2431.5" r="6.25" fill="#fbf3f2" stroke="#1a1a1a" stroke-width="1.5"/>
<circle cx="646.1" cy="2070.5" r="8.65" fill="#fbf6f4" stroke="#1a1a1a" stroke-width="1.5"/>
<circle cx="646.1" cy="2138.6" r="11.95" fill="#deb0a6" stroke="#1a1a1a" stroke-width="1.5"/>
<circle cx="646.1" cy="2295.3" r="4.25" fill="#fdfbfb" stroke="#1a1a1a" stroke-width="1.5"/>
<circle cx="646.1" cy="2363.4" r="7.75" fill="#f2e4e0" stroke="#1a1a1a" stroke-width="1.5"/>
<circle cx="646.1" cy="2431.5" r="8.45" fill="#edd5cf" stroke="#1a1a1a" stroke-width="1.5"/>
<circle cx="919.3" cy="2070.5" r="14.55" fill="#ac4434" stroke="#1a1a1a" stroke-width="1.5"/>
<circle cx="919.3" cy="2138.6" r="13.25" fill="#cf8070" stroke="#1a1a1a" stroke-width="1.5"/>
<circle cx="919.3" cy="2295.3" r="6.25" fill="#f5e6e3" stroke="#1a1a1a" stroke-width="1.5"/>
<circle cx="919.3" cy="2363.4" r="9.95" fill="#dfb2a8" stroke="#1a1a1a" stroke-width="1.5"/>
<circle cx="919.3" cy="2431.5" r="10.85" fill="#cd8074" stroke="#1a1a1a" stroke-width="1.5"/>
<text x="1142.0" y="1954.1" font-size="27.9" text-anchor="start" fill="#1a1a1a">-log10(p-value)</text>
<rect x="1142.3" y="1971.8" width="39.9" height="197.0" fill="url(#gE)"/>
<line x1="1142.3" y1="2023.6" x2="1150.3" y2="2023.6" stroke="#ffffff" stroke-width="1.2" stroke-linecap="butt"/>
<line x1="1174.2" y1="2023.6" x2="1182.2" y2="2023.6" stroke="#ffffff" stroke-width="1.2" stroke-linecap="butt"/>
<text x="1195.5" y="2031.2" font-size="21.5" text-anchor="start" fill="#1a1a1a">6</text>
<line x1="1142.3" y1="2090.0" x2="1150.3" y2="2090.0" stroke="#ffffff" stroke-width="1.2" stroke-linecap="butt"/>
<line x1="1174.2" y1="2090.0" x2="1182.2" y2="2090.0" stroke="#ffffff" stroke-width="1.2" stroke-linecap="butt"/>
<text x="1195.5" y="2097.6" font-size="21.5" text-anchor="start" fill="#1a1a1a">4</text>
<line x1="1142.3" y1="2156.9" x2="1150.3" y2="2156.9" stroke="#ffffff" stroke-width="1.2" stroke-linecap="butt"/>
<line x1="1174.2" y1="2156.9" x2="1182.2" y2="2156.9" stroke="#ffffff" stroke-width="1.2" stroke-linecap="butt"/>
<text x="1195.5" y="2164.5" font-size="21.5" text-anchor="start" fill="#1a1a1a">2</text>
<text x="1142.0" y="2246.6" font-size="27.5" text-anchor="start" fill="#1a1a1a">BETA</text>
<circle cx="1162.3" cy="2283.2" r="6.15" fill="none" stroke="#1a1a1a" stroke-width="1.5"/>
<text x="1195.5" y="2290.8" font-size="21.5" text-anchor="start" fill="#1a1a1a">0.10</text>
<circle cx="1162.3" cy="2322.9" r="9.15" fill="none" stroke="#1a1a1a" stroke-width="1.5"/>
<text x="1195.5" y="2330.5" font-size="21.5" text-anchor="start" fill="#1a1a1a">0.15</text>
<circle cx="1162.3" cy="2362.5" r="10.95" fill="none" stroke="#1a1a1a" stroke-width="1.5"/>
<text x="1195.5" y="2370.1" font-size="21.5" text-anchor="start" fill="#1a1a1a">0.20</text>
<circle cx="1162.3" cy="2402.4" r="12.55" fill="none" stroke="#1a1a1a" stroke-width="1.5"/>
<text x="1195.5" y="2410.0" font-size="21.5" text-anchor="start" fill="#1a1a1a">0.25</text>
<circle cx="1162.3" cy="2441.6" r="14.15" fill="none" stroke="#1a1a1a" stroke-width="1.5"/>
<text x="1195.5" y="2449.2" font-size="21.5" text-anchor="start" fill="#1a1a1a">0.30</text>
<circle cx="1162.3" cy="2481.3" r="15.45" fill="none" stroke="#1a1a1a" stroke-width="1.5"/>
<text x="1195.5" y="2488.9" font-size="21.5" text-anchor="start" fill="#1a1a1a">0.35</text>
</svg>
</body></html>
